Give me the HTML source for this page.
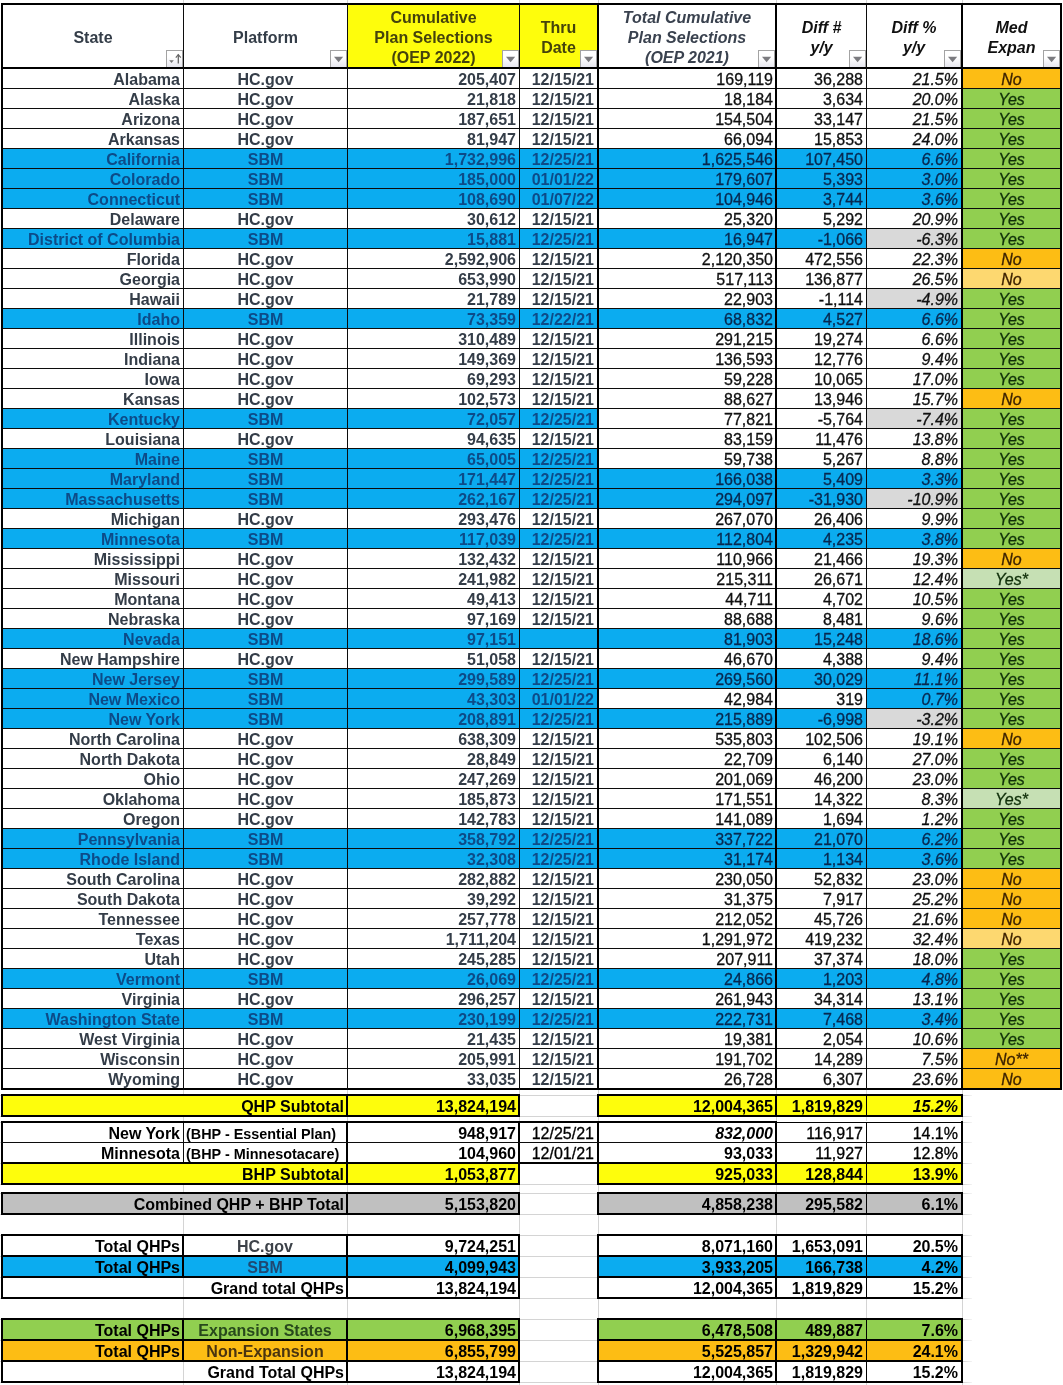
<!DOCTYPE html>
<html><head><meta charset="utf-8"><title>OEP 2022</title><style>
html,body{margin:0;padding:0;background:#fff;}
body{width:1063px;height:1385px;position:relative;overflow:hidden;font-family:"Liberation Sans",sans-serif;font-size:16px;}
.r{position:absolute;}
.t{position:absolute;white-space:nowrap;box-sizing:border-box;overflow:visible;}
#T{position:absolute;left:0;top:0;width:1063px;height:1385px;will-change:transform;}
.n{-webkit-text-stroke:0.3px;}
.b{font-weight:bold;} .i{font-style:italic;} .bi{font-weight:bold;font-style:italic;}
.fb{position:absolute;width:15px;height:16px;border:1px solid #a3a3a3;border-bottom:none;background:linear-gradient(#ffffff 40%,#e6e6ee);}
.fb svg{display:block;}
</style></head><body>
<div class="r" style="left:347px;top:3px;width:250px;height:66px;background:#fefd0c;"></div>
<div class="r" style="left:961px;top:68px;width:101px;height:21px;background:#fdbd14;"></div>
<div class="r" style="left:961px;top:88px;width:101px;height:21px;background:#91cf50;"></div>
<div class="r" style="left:961px;top:108px;width:101px;height:21px;background:#91cf50;"></div>
<div class="r" style="left:961px;top:128px;width:101px;height:21px;background:#91cf50;"></div>
<div class="r" style="left:1px;top:148px;width:597px;height:21px;background:#0bacf0;"></div>
<div class="r" style="left:597px;top:148px;width:178px;height:21px;background:#0bacf0;"></div>
<div class="r" style="left:775px;top:148px;width:91px;height:21px;background:#0bacf0;"></div>
<div class="r" style="left:866px;top:148px;width:95px;height:21px;background:#0bacf0;"></div>
<div class="r" style="left:961px;top:148px;width:101px;height:21px;background:#91cf50;"></div>
<div class="r" style="left:1px;top:168px;width:597px;height:21px;background:#0bacf0;"></div>
<div class="r" style="left:597px;top:168px;width:178px;height:21px;background:#0bacf0;"></div>
<div class="r" style="left:775px;top:168px;width:91px;height:21px;background:#0bacf0;"></div>
<div class="r" style="left:866px;top:168px;width:95px;height:21px;background:#0bacf0;"></div>
<div class="r" style="left:961px;top:168px;width:101px;height:21px;background:#91cf50;"></div>
<div class="r" style="left:1px;top:188px;width:597px;height:21px;background:#0bacf0;"></div>
<div class="r" style="left:597px;top:188px;width:178px;height:21px;background:#0bacf0;"></div>
<div class="r" style="left:775px;top:188px;width:91px;height:21px;background:#0bacf0;"></div>
<div class="r" style="left:866px;top:188px;width:95px;height:21px;background:#0bacf0;"></div>
<div class="r" style="left:961px;top:188px;width:101px;height:21px;background:#91cf50;"></div>
<div class="r" style="left:961px;top:208px;width:101px;height:21px;background:#91cf50;"></div>
<div class="r" style="left:1px;top:228px;width:597px;height:21px;background:#0bacf0;"></div>
<div class="r" style="left:597px;top:228px;width:178px;height:21px;background:#0bacf0;"></div>
<div class="r" style="left:775px;top:228px;width:91px;height:21px;background:#0bacf0;"></div>
<div class="r" style="left:866px;top:228px;width:95px;height:21px;background:#d9d9d9;"></div>
<div class="r" style="left:961px;top:228px;width:101px;height:21px;background:#91cf50;"></div>
<div class="r" style="left:961px;top:248px;width:101px;height:21px;background:#fdbd14;"></div>
<div class="r" style="left:961px;top:268px;width:101px;height:21px;background:#fdd870;"></div>
<div class="r" style="left:866px;top:288px;width:95px;height:21px;background:#d9d9d9;"></div>
<div class="r" style="left:961px;top:288px;width:101px;height:21px;background:#91cf50;"></div>
<div class="r" style="left:1px;top:308px;width:597px;height:21px;background:#0bacf0;"></div>
<div class="r" style="left:597px;top:308px;width:178px;height:21px;background:#0bacf0;"></div>
<div class="r" style="left:775px;top:308px;width:91px;height:21px;background:#0bacf0;"></div>
<div class="r" style="left:866px;top:308px;width:95px;height:21px;background:#0bacf0;"></div>
<div class="r" style="left:961px;top:308px;width:101px;height:21px;background:#91cf50;"></div>
<div class="r" style="left:961px;top:328px;width:101px;height:21px;background:#91cf50;"></div>
<div class="r" style="left:961px;top:348px;width:101px;height:21px;background:#91cf50;"></div>
<div class="r" style="left:961px;top:368px;width:101px;height:21px;background:#91cf50;"></div>
<div class="r" style="left:961px;top:388px;width:101px;height:21px;background:#fdbd14;"></div>
<div class="r" style="left:1px;top:408px;width:597px;height:21px;background:#0bacf0;"></div>
<div class="r" style="left:866px;top:408px;width:95px;height:21px;background:#d9d9d9;"></div>
<div class="r" style="left:961px;top:408px;width:101px;height:21px;background:#91cf50;"></div>
<div class="r" style="left:961px;top:428px;width:101px;height:21px;background:#91cf50;"></div>
<div class="r" style="left:1px;top:448px;width:597px;height:21px;background:#0bacf0;"></div>
<div class="r" style="left:961px;top:448px;width:101px;height:21px;background:#91cf50;"></div>
<div class="r" style="left:1px;top:468px;width:597px;height:21px;background:#0bacf0;"></div>
<div class="r" style="left:597px;top:468px;width:178px;height:21px;background:#0bacf0;"></div>
<div class="r" style="left:775px;top:468px;width:91px;height:21px;background:#0bacf0;"></div>
<div class="r" style="left:866px;top:468px;width:95px;height:21px;background:#0bacf0;"></div>
<div class="r" style="left:961px;top:468px;width:101px;height:21px;background:#91cf50;"></div>
<div class="r" style="left:1px;top:488px;width:597px;height:21px;background:#0bacf0;"></div>
<div class="r" style="left:597px;top:488px;width:178px;height:21px;background:#0bacf0;"></div>
<div class="r" style="left:775px;top:488px;width:91px;height:21px;background:#0bacf0;"></div>
<div class="r" style="left:866px;top:488px;width:95px;height:21px;background:#d9d9d9;"></div>
<div class="r" style="left:961px;top:488px;width:101px;height:21px;background:#91cf50;"></div>
<div class="r" style="left:961px;top:508px;width:101px;height:21px;background:#91cf50;"></div>
<div class="r" style="left:1px;top:528px;width:597px;height:21px;background:#0bacf0;"></div>
<div class="r" style="left:597px;top:528px;width:178px;height:21px;background:#0bacf0;"></div>
<div class="r" style="left:775px;top:528px;width:91px;height:21px;background:#0bacf0;"></div>
<div class="r" style="left:866px;top:528px;width:95px;height:21px;background:#0bacf0;"></div>
<div class="r" style="left:961px;top:528px;width:101px;height:21px;background:#91cf50;"></div>
<div class="r" style="left:961px;top:548px;width:101px;height:21px;background:#fdbd14;"></div>
<div class="r" style="left:961px;top:568px;width:101px;height:21px;background:#c6e0b4;"></div>
<div class="r" style="left:961px;top:588px;width:101px;height:21px;background:#91cf50;"></div>
<div class="r" style="left:961px;top:608px;width:101px;height:21px;background:#91cf50;"></div>
<div class="r" style="left:1px;top:628px;width:597px;height:21px;background:#0bacf0;"></div>
<div class="r" style="left:597px;top:628px;width:178px;height:21px;background:#0bacf0;"></div>
<div class="r" style="left:775px;top:628px;width:91px;height:21px;background:#0bacf0;"></div>
<div class="r" style="left:866px;top:628px;width:95px;height:21px;background:#0bacf0;"></div>
<div class="r" style="left:961px;top:628px;width:101px;height:21px;background:#91cf50;"></div>
<div class="r" style="left:961px;top:648px;width:101px;height:21px;background:#91cf50;"></div>
<div class="r" style="left:1px;top:668px;width:597px;height:21px;background:#0bacf0;"></div>
<div class="r" style="left:597px;top:668px;width:178px;height:21px;background:#0bacf0;"></div>
<div class="r" style="left:775px;top:668px;width:91px;height:21px;background:#0bacf0;"></div>
<div class="r" style="left:866px;top:668px;width:95px;height:21px;background:#0bacf0;"></div>
<div class="r" style="left:961px;top:668px;width:101px;height:21px;background:#91cf50;"></div>
<div class="r" style="left:1px;top:688px;width:597px;height:21px;background:#0bacf0;"></div>
<div class="r" style="left:866px;top:688px;width:95px;height:21px;background:#0bacf0;"></div>
<div class="r" style="left:961px;top:688px;width:101px;height:21px;background:#91cf50;"></div>
<div class="r" style="left:1px;top:708px;width:597px;height:21px;background:#0bacf0;"></div>
<div class="r" style="left:597px;top:708px;width:178px;height:21px;background:#0bacf0;"></div>
<div class="r" style="left:775px;top:708px;width:91px;height:21px;background:#0bacf0;"></div>
<div class="r" style="left:866px;top:708px;width:95px;height:21px;background:#d9d9d9;"></div>
<div class="r" style="left:961px;top:708px;width:101px;height:21px;background:#91cf50;"></div>
<div class="r" style="left:961px;top:728px;width:101px;height:21px;background:#fdbd14;"></div>
<div class="r" style="left:961px;top:748px;width:101px;height:21px;background:#91cf50;"></div>
<div class="r" style="left:961px;top:768px;width:101px;height:21px;background:#91cf50;"></div>
<div class="r" style="left:961px;top:788px;width:101px;height:21px;background:#c6e0b4;"></div>
<div class="r" style="left:961px;top:808px;width:101px;height:21px;background:#91cf50;"></div>
<div class="r" style="left:1px;top:828px;width:597px;height:21px;background:#0bacf0;"></div>
<div class="r" style="left:597px;top:828px;width:178px;height:21px;background:#0bacf0;"></div>
<div class="r" style="left:775px;top:828px;width:91px;height:21px;background:#0bacf0;"></div>
<div class="r" style="left:866px;top:828px;width:95px;height:21px;background:#0bacf0;"></div>
<div class="r" style="left:961px;top:828px;width:101px;height:21px;background:#91cf50;"></div>
<div class="r" style="left:1px;top:848px;width:597px;height:21px;background:#0bacf0;"></div>
<div class="r" style="left:597px;top:848px;width:178px;height:21px;background:#0bacf0;"></div>
<div class="r" style="left:775px;top:848px;width:91px;height:21px;background:#0bacf0;"></div>
<div class="r" style="left:866px;top:848px;width:95px;height:21px;background:#0bacf0;"></div>
<div class="r" style="left:961px;top:848px;width:101px;height:21px;background:#91cf50;"></div>
<div class="r" style="left:961px;top:868px;width:101px;height:21px;background:#fdbd14;"></div>
<div class="r" style="left:961px;top:888px;width:101px;height:21px;background:#fdbd14;"></div>
<div class="r" style="left:961px;top:908px;width:101px;height:21px;background:#fdbd14;"></div>
<div class="r" style="left:961px;top:928px;width:101px;height:21px;background:#fdd870;"></div>
<div class="r" style="left:961px;top:948px;width:101px;height:21px;background:#91cf50;"></div>
<div class="r" style="left:1px;top:968px;width:597px;height:21px;background:#0bacf0;"></div>
<div class="r" style="left:597px;top:968px;width:178px;height:21px;background:#0bacf0;"></div>
<div class="r" style="left:775px;top:968px;width:91px;height:21px;background:#0bacf0;"></div>
<div class="r" style="left:866px;top:968px;width:95px;height:21px;background:#0bacf0;"></div>
<div class="r" style="left:961px;top:968px;width:101px;height:21px;background:#91cf50;"></div>
<div class="r" style="left:961px;top:988px;width:101px;height:21px;background:#91cf50;"></div>
<div class="r" style="left:1px;top:1008px;width:597px;height:21px;background:#0bacf0;"></div>
<div class="r" style="left:597px;top:1008px;width:178px;height:21px;background:#0bacf0;"></div>
<div class="r" style="left:775px;top:1008px;width:91px;height:21px;background:#0bacf0;"></div>
<div class="r" style="left:866px;top:1008px;width:95px;height:21px;background:#0bacf0;"></div>
<div class="r" style="left:961px;top:1008px;width:101px;height:21px;background:#91cf50;"></div>
<div class="r" style="left:961px;top:1028px;width:101px;height:21px;background:#91cf50;"></div>
<div class="r" style="left:961px;top:1048px;width:101px;height:21px;background:#fdbd14;"></div>
<div class="r" style="left:961px;top:1068px;width:101px;height:21px;background:#fdbd14;"></div>
<div class="r" style="left:1px;top:88px;width:1061px;height:1px;background:#0c0c0c;"></div>
<div class="r" style="left:1px;top:108px;width:1061px;height:1px;background:#0c0c0c;"></div>
<div class="r" style="left:1px;top:128px;width:1061px;height:1px;background:#0c0c0c;"></div>
<div class="r" style="left:1px;top:148px;width:1061px;height:1px;background:#0c0c0c;"></div>
<div class="r" style="left:1px;top:168px;width:1061px;height:1px;background:#0c0c0c;"></div>
<div class="r" style="left:1px;top:188px;width:1061px;height:1px;background:#0c0c0c;"></div>
<div class="r" style="left:1px;top:208px;width:1061px;height:1px;background:#0c0c0c;"></div>
<div class="r" style="left:1px;top:228px;width:1061px;height:1px;background:#0c0c0c;"></div>
<div class="r" style="left:1px;top:248px;width:1061px;height:1px;background:#0c0c0c;"></div>
<div class="r" style="left:1px;top:268px;width:1061px;height:1px;background:#0c0c0c;"></div>
<div class="r" style="left:1px;top:288px;width:1061px;height:1px;background:#0c0c0c;"></div>
<div class="r" style="left:1px;top:308px;width:1061px;height:1px;background:#0c0c0c;"></div>
<div class="r" style="left:1px;top:328px;width:1061px;height:1px;background:#0c0c0c;"></div>
<div class="r" style="left:1px;top:348px;width:1061px;height:1px;background:#0c0c0c;"></div>
<div class="r" style="left:1px;top:368px;width:1061px;height:1px;background:#0c0c0c;"></div>
<div class="r" style="left:1px;top:388px;width:1061px;height:1px;background:#0c0c0c;"></div>
<div class="r" style="left:1px;top:408px;width:1061px;height:1px;background:#0c0c0c;"></div>
<div class="r" style="left:1px;top:428px;width:1061px;height:1px;background:#0c0c0c;"></div>
<div class="r" style="left:1px;top:448px;width:1061px;height:1px;background:#0c0c0c;"></div>
<div class="r" style="left:1px;top:468px;width:1061px;height:1px;background:#0c0c0c;"></div>
<div class="r" style="left:1px;top:488px;width:1061px;height:1px;background:#0c0c0c;"></div>
<div class="r" style="left:1px;top:508px;width:1061px;height:1px;background:#0c0c0c;"></div>
<div class="r" style="left:1px;top:528px;width:1061px;height:1px;background:#0c0c0c;"></div>
<div class="r" style="left:1px;top:548px;width:1061px;height:1px;background:#0c0c0c;"></div>
<div class="r" style="left:1px;top:568px;width:1061px;height:1px;background:#0c0c0c;"></div>
<div class="r" style="left:1px;top:588px;width:1061px;height:1px;background:#0c0c0c;"></div>
<div class="r" style="left:1px;top:608px;width:1061px;height:1px;background:#0c0c0c;"></div>
<div class="r" style="left:1px;top:628px;width:1061px;height:1px;background:#0c0c0c;"></div>
<div class="r" style="left:1px;top:648px;width:1061px;height:1px;background:#0c0c0c;"></div>
<div class="r" style="left:1px;top:668px;width:1061px;height:1px;background:#0c0c0c;"></div>
<div class="r" style="left:1px;top:688px;width:1061px;height:1px;background:#0c0c0c;"></div>
<div class="r" style="left:1px;top:708px;width:1061px;height:1px;background:#0c0c0c;"></div>
<div class="r" style="left:1px;top:728px;width:1061px;height:1px;background:#0c0c0c;"></div>
<div class="r" style="left:1px;top:748px;width:1061px;height:1px;background:#0c0c0c;"></div>
<div class="r" style="left:1px;top:768px;width:1061px;height:1px;background:#0c0c0c;"></div>
<div class="r" style="left:1px;top:788px;width:1061px;height:1px;background:#0c0c0c;"></div>
<div class="r" style="left:1px;top:808px;width:1061px;height:1px;background:#0c0c0c;"></div>
<div class="r" style="left:1px;top:828px;width:1061px;height:1px;background:#0c0c0c;"></div>
<div class="r" style="left:1px;top:848px;width:1061px;height:1px;background:#0c0c0c;"></div>
<div class="r" style="left:1px;top:868px;width:1061px;height:1px;background:#0c0c0c;"></div>
<div class="r" style="left:1px;top:888px;width:1061px;height:1px;background:#0c0c0c;"></div>
<div class="r" style="left:1px;top:908px;width:1061px;height:1px;background:#0c0c0c;"></div>
<div class="r" style="left:1px;top:928px;width:1061px;height:1px;background:#0c0c0c;"></div>
<div class="r" style="left:1px;top:948px;width:1061px;height:1px;background:#0c0c0c;"></div>
<div class="r" style="left:1px;top:968px;width:1061px;height:1px;background:#0c0c0c;"></div>
<div class="r" style="left:1px;top:988px;width:1061px;height:1px;background:#0c0c0c;"></div>
<div class="r" style="left:1px;top:1008px;width:1061px;height:1px;background:#0c0c0c;"></div>
<div class="r" style="left:1px;top:1028px;width:1061px;height:1px;background:#0c0c0c;"></div>
<div class="r" style="left:1px;top:1048px;width:1061px;height:1px;background:#0c0c0c;"></div>
<div class="r" style="left:1px;top:1068px;width:1061px;height:1px;background:#0c0c0c;"></div>
<div class="r" style="left:1px;top:3px;width:1061px;height:2px;background:#000;"></div>
<div class="r" style="left:1px;top:67px;width:1061px;height:2px;background:#000;"></div>
<div class="r" style="left:1px;top:1088px;width:1061px;height:2px;background:#000;"></div>
<div class="r" style="left:1px;top:3px;width:2px;height:1087px;background:#000;"></div>
<div class="r" style="left:183px;top:3px;width:1px;height:1087px;background:#0c0c0c;"></div>
<div class="r" style="left:347px;top:3px;width:1px;height:1087px;background:#0c0c0c;"></div>
<div class="r" style="left:519px;top:3px;width:1px;height:1087px;background:#0c0c0c;"></div>
<div class="r" style="left:597px;top:3px;width:2px;height:1087px;background:#000;"></div>
<div class="r" style="left:775px;top:3px;width:2px;height:1087px;background:#000;"></div>
<div class="r" style="left:866px;top:3px;width:1px;height:1087px;background:#0c0c0c;"></div>
<div class="r" style="left:961px;top:3px;width:2px;height:1087px;background:#000;"></div>
<div class="r" style="left:1060px;top:3px;width:2px;height:1087px;background:#000;"></div>
<div class="fb" style="left:166px;top:50px;"><svg width="15" height="16" viewBox="0 0 15 16"><path d="M2.2 9.2h4.6L4.5 12z" fill="#777"/><path d="M11.3 3.6v9" stroke="#666" stroke-width="1.3" fill="none"/><path d="M8.8 6.6l2.5-3 2.5 3" stroke="#666" stroke-width="1.2" fill="none"/></svg></div>
<div class="fb" style="left:330px;top:50px;"><svg width="15" height="16" viewBox="0 0 15 16"><path d="M3 5.8h9.2L7.6 11.2z" fill="#7b7b7f"/></svg></div>
<div class="fb" style="left:502px;top:50px;"><svg width="15" height="16" viewBox="0 0 15 16"><path d="M3 5.8h9.2L7.6 11.2z" fill="#7b7b7f"/></svg></div>
<div class="fb" style="left:580px;top:50px;"><svg width="15" height="16" viewBox="0 0 15 16"><path d="M3 5.8h9.2L7.6 11.2z" fill="#7b7b7f"/></svg></div>
<div class="fb" style="left:758px;top:50px;"><svg width="15" height="16" viewBox="0 0 15 16"><path d="M3 5.8h9.2L7.6 11.2z" fill="#7b7b7f"/></svg></div>
<div class="fb" style="left:849px;top:50px;"><svg width="15" height="16" viewBox="0 0 15 16"><path d="M3 5.8h9.2L7.6 11.2z" fill="#7b7b7f"/></svg></div>
<div class="fb" style="left:944px;top:50px;"><svg width="15" height="16" viewBox="0 0 15 16"><path d="M3 5.8h9.2L7.6 11.2z" fill="#7b7b7f"/></svg></div>
<div class="fb" style="left:1043px;top:50px;"><svg width="15" height="16" viewBox="0 0 15 16"><path d="M3 5.8h9.2L7.6 11.2z" fill="#7b7b7f"/></svg></div>
<div class="r" style="left:0px;top:1095px;width:972px;height:1px;background:#d4d4d4;"></div>
<div class="r" style="left:0px;top:1116px;width:972px;height:1px;background:#d4d4d4;"></div>
<div class="r" style="left:0px;top:1122px;width:972px;height:1px;background:#d4d4d4;"></div>
<div class="r" style="left:0px;top:1142px;width:972px;height:1px;background:#d4d4d4;"></div>
<div class="r" style="left:0px;top:1163px;width:972px;height:1px;background:#d4d4d4;"></div>
<div class="r" style="left:0px;top:1184px;width:972px;height:1px;background:#d4d4d4;"></div>
<div class="r" style="left:0px;top:1193px;width:972px;height:1px;background:#d4d4d4;"></div>
<div class="r" style="left:0px;top:1214px;width:972px;height:1px;background:#d4d4d4;"></div>
<div class="r" style="left:0px;top:1235px;width:972px;height:1px;background:#d4d4d4;"></div>
<div class="r" style="left:0px;top:1256px;width:972px;height:1px;background:#d4d4d4;"></div>
<div class="r" style="left:0px;top:1277px;width:972px;height:1px;background:#d4d4d4;"></div>
<div class="r" style="left:0px;top:1298px;width:972px;height:1px;background:#d4d4d4;"></div>
<div class="r" style="left:0px;top:1319px;width:972px;height:1px;background:#d4d4d4;"></div>
<div class="r" style="left:0px;top:1340px;width:972px;height:1px;background:#d4d4d4;"></div>
<div class="r" style="left:0px;top:1361px;width:972px;height:1px;background:#d4d4d4;"></div>
<div class="r" style="left:0px;top:1382px;width:972px;height:1px;background:#d4d4d4;"></div>
<div class="r" style="left:183px;top:1090px;width:1px;height:295px;background:#d4d4d4;"></div>
<div class="r" style="left:183px;top:0px;width:1px;height:3px;background:#d4d4d4;"></div>
<div class="r" style="left:347px;top:1090px;width:1px;height:295px;background:#d4d4d4;"></div>
<div class="r" style="left:347px;top:0px;width:1px;height:3px;background:#d4d4d4;"></div>
<div class="r" style="left:519px;top:1090px;width:1px;height:295px;background:#d4d4d4;"></div>
<div class="r" style="left:519px;top:0px;width:1px;height:3px;background:#d4d4d4;"></div>
<div class="r" style="left:598px;top:1090px;width:1px;height:295px;background:#d4d4d4;"></div>
<div class="r" style="left:598px;top:0px;width:1px;height:3px;background:#d4d4d4;"></div>
<div class="r" style="left:776px;top:1090px;width:1px;height:295px;background:#d4d4d4;"></div>
<div class="r" style="left:776px;top:0px;width:1px;height:3px;background:#d4d4d4;"></div>
<div class="r" style="left:866px;top:1090px;width:1px;height:295px;background:#d4d4d4;"></div>
<div class="r" style="left:866px;top:0px;width:1px;height:3px;background:#d4d4d4;"></div>
<div class="r" style="left:962px;top:1090px;width:1px;height:295px;background:#d4d4d4;"></div>
<div class="r" style="left:962px;top:0px;width:1px;height:3px;background:#d4d4d4;"></div>
<div class="r" style="left:963px;top:1090px;width:12px;height:295px;background:linear-gradient(90deg,rgba(255,255,255,0),#fff);"></div>
<div class="r" style="left:1px;top:1094px;width:519px;height:23px;background:#fefd0c;"></div>
<div class="r" style="left:1px;top:1094px;width:519px;height:2px;background:#000;"></div>
<div class="r" style="left:1px;top:1115px;width:519px;height:2px;background:#000;"></div>
<div class="r" style="left:1px;top:1094px;width:2px;height:23px;background:#000;"></div>
<div class="r" style="left:518px;top:1094px;width:2px;height:23px;background:#000;"></div>
<div class="r" style="left:346px;top:1094px;width:2px;height:23px;background:#000;"></div>
<div class="r" style="left:597px;top:1094px;width:366px;height:23px;background:#fefd0c;"></div>
<div class="r" style="left:597px;top:1094px;width:366px;height:2px;background:#000;"></div>
<div class="r" style="left:597px;top:1115px;width:366px;height:2px;background:#000;"></div>
<div class="r" style="left:597px;top:1094px;width:2px;height:23px;background:#000;"></div>
<div class="r" style="left:961px;top:1094px;width:2px;height:23px;background:#000;"></div>
<div class="r" style="left:775px;top:1094px;width:2px;height:23px;background:#000;"></div>
<div class="r" style="left:866px;top:1094px;width:1px;height:23px;background:#000;"></div>
<div class="r" style="left:1px;top:1164px;width:519px;height:20px;background:#fefd0c;"></div>
<div class="r" style="left:597px;top:1164px;width:366px;height:20px;background:#fefd0c;"></div>
<div class="r" style="left:1px;top:1121px;width:519px;height:2px;background:#000;"></div>
<div class="r" style="left:1px;top:1183px;width:519px;height:2px;background:#000;"></div>
<div class="r" style="left:1px;top:1121px;width:2px;height:64px;background:#000;"></div>
<div class="r" style="left:518px;top:1121px;width:2px;height:64px;background:#000;"></div>
<div class="r" style="left:346px;top:1121px;width:2px;height:64px;background:#000;"></div>
<div class="r" style="left:183px;top:1123px;width:1px;height:40px;background:#0c0c0c;"></div>
<div class="r" style="left:1px;top:1142px;width:597px;height:1px;background:#0c0c0c;"></div>
<div class="r" style="left:1px;top:1162px;width:597px;height:2px;background:#000;"></div>
<div class="r" style="left:519px;top:1121px;width:80px;height:2px;background:#000;"></div>
<div class="r" style="left:597px;top:1121px;width:366px;height:2px;background:#000;"></div>
<div class="r" style="left:597px;top:1183px;width:366px;height:2px;background:#000;"></div>
<div class="r" style="left:597px;top:1121px;width:2px;height:64px;background:#000;"></div>
<div class="r" style="left:961px;top:1121px;width:2px;height:64px;background:#000;"></div>
<div class="r" style="left:775px;top:1121px;width:2px;height:64px;background:#000;"></div>
<div class="r" style="left:866px;top:1121px;width:1px;height:64px;background:#000;"></div>
<div class="r" style="left:777px;top:1121px;width:184px;height:1px;background:#fff;"></div>
<div class="r" style="left:597px;top:1142px;width:366px;height:1px;background:#0c0c0c;"></div>
<div class="r" style="left:597px;top:1162px;width:366px;height:2px;background:#000;"></div>
<div class="r" style="left:1px;top:1192px;width:519px;height:23px;background:#c0c0c0;"></div>
<div class="r" style="left:1px;top:1192px;width:519px;height:2px;background:#000;"></div>
<div class="r" style="left:1px;top:1213px;width:519px;height:2px;background:#000;"></div>
<div class="r" style="left:1px;top:1192px;width:2px;height:23px;background:#000;"></div>
<div class="r" style="left:518px;top:1192px;width:2px;height:23px;background:#000;"></div>
<div class="r" style="left:346px;top:1192px;width:2px;height:23px;background:#000;"></div>
<div class="r" style="left:597px;top:1192px;width:366px;height:23px;background:#c0c0c0;"></div>
<div class="r" style="left:597px;top:1192px;width:366px;height:2px;background:#000;"></div>
<div class="r" style="left:597px;top:1213px;width:366px;height:2px;background:#000;"></div>
<div class="r" style="left:597px;top:1192px;width:2px;height:23px;background:#000;"></div>
<div class="r" style="left:961px;top:1192px;width:2px;height:23px;background:#000;"></div>
<div class="r" style="left:775px;top:1192px;width:2px;height:23px;background:#000;"></div>
<div class="r" style="left:866px;top:1192px;width:1px;height:23px;background:#000;"></div>
<div class="r" style="left:1px;top:1256px;width:519px;height:21px;background:#0bacf0;"></div>
<div class="r" style="left:597px;top:1256px;width:366px;height:21px;background:#0bacf0;"></div>
<div class="r" style="left:1px;top:1234px;width:519px;height:2px;background:#000;"></div>
<div class="r" style="left:1px;top:1297px;width:519px;height:2px;background:#000;"></div>
<div class="r" style="left:1px;top:1234px;width:2px;height:65px;background:#000;"></div>
<div class="r" style="left:518px;top:1234px;width:2px;height:65px;background:#000;"></div>
<div class="r" style="left:597px;top:1234px;width:366px;height:2px;background:#000;"></div>
<div class="r" style="left:597px;top:1297px;width:366px;height:2px;background:#000;"></div>
<div class="r" style="left:597px;top:1234px;width:2px;height:65px;background:#000;"></div>
<div class="r" style="left:961px;top:1234px;width:2px;height:65px;background:#000;"></div>
<div class="r" style="left:1px;top:1255px;width:519px;height:2px;background:#000;"></div>
<div class="r" style="left:597px;top:1255px;width:366px;height:2px;background:#000;"></div>
<div class="r" style="left:1px;top:1276px;width:519px;height:2px;background:#000;"></div>
<div class="r" style="left:597px;top:1276px;width:366px;height:2px;background:#000;"></div>
<div class="r" style="left:346px;top:1234px;width:2px;height:65px;background:#000;"></div>
<div class="r" style="left:182px;top:1234px;width:2px;height:43px;background:#000;"></div>
<div class="r" style="left:775px;top:1234px;width:2px;height:65px;background:#000;"></div>
<div class="r" style="left:866px;top:1234px;width:1px;height:65px;background:#000;"></div>
<div class="r" style="left:1px;top:1319px;width:519px;height:21px;background:#91cf50;"></div>
<div class="r" style="left:597px;top:1319px;width:366px;height:21px;background:#91cf50;"></div>
<div class="r" style="left:1px;top:1340px;width:519px;height:21px;background:#fdbd14;"></div>
<div class="r" style="left:597px;top:1340px;width:366px;height:21px;background:#fdbd14;"></div>
<div class="r" style="left:1px;top:1318px;width:519px;height:2px;background:#000;"></div>
<div class="r" style="left:1px;top:1381px;width:519px;height:2px;background:#000;"></div>
<div class="r" style="left:1px;top:1318px;width:2px;height:65px;background:#000;"></div>
<div class="r" style="left:518px;top:1318px;width:2px;height:65px;background:#000;"></div>
<div class="r" style="left:597px;top:1318px;width:366px;height:2px;background:#000;"></div>
<div class="r" style="left:597px;top:1381px;width:366px;height:2px;background:#000;"></div>
<div class="r" style="left:597px;top:1318px;width:2px;height:65px;background:#000;"></div>
<div class="r" style="left:961px;top:1318px;width:2px;height:65px;background:#000;"></div>
<div class="r" style="left:1px;top:1339px;width:519px;height:2px;background:#000;"></div>
<div class="r" style="left:597px;top:1339px;width:366px;height:2px;background:#000;"></div>
<div class="r" style="left:1px;top:1360px;width:519px;height:2px;background:#000;"></div>
<div class="r" style="left:597px;top:1360px;width:366px;height:2px;background:#000;"></div>
<div class="r" style="left:346px;top:1318px;width:2px;height:65px;background:#000;"></div>
<div class="r" style="left:182px;top:1318px;width:2px;height:43px;background:#000;"></div>
<div class="r" style="left:775px;top:1318px;width:2px;height:65px;background:#000;"></div>
<div class="r" style="left:866px;top:1318px;width:1px;height:65px;background:#000;"></div>
<div id="T">
<div class="t b" style="left:3px;top:70px;width:180px;height:20px;line-height:20px;text-align:right;padding-right:3px;color:#343d48;">Alabama</div>
<div class="t b" style="left:184px;top:70px;width:163px;height:20px;line-height:20px;text-align:center;color:#343d48;">HC.gov</div>
<div class="t b" style="left:348px;top:70px;width:171px;height:20px;line-height:20px;text-align:right;padding-right:3px;color:#343d48;">205,407</div>
<div class="t b" style="left:520px;top:70px;width:77px;height:20px;line-height:20px;text-align:right;padding-right:3px;color:#343d48;">12/15/21</div>
<div class="t n" style="left:599px;top:70px;width:176px;height:20px;line-height:20px;text-align:right;padding-right:2px;color:#101010;">169,119</div>
<div class="t n" style="left:777px;top:70px;width:89px;height:20px;line-height:20px;text-align:right;padding-right:3px;color:#101010;">36,288</div>
<div class="t i n" style="left:867px;top:70px;width:94px;height:20px;line-height:20px;text-align:right;padding-right:3px;color:#101010;">21.5%</div>
<div class="t i n" style="left:963px;top:70px;width:97px;height:20px;line-height:20px;text-align:center;color:#3d2300;">No</div>
<div class="t b" style="left:3px;top:90px;width:180px;height:20px;line-height:20px;text-align:right;padding-right:3px;color:#343d48;">Alaska</div>
<div class="t b" style="left:184px;top:90px;width:163px;height:20px;line-height:20px;text-align:center;color:#343d48;">HC.gov</div>
<div class="t b" style="left:348px;top:90px;width:171px;height:20px;line-height:20px;text-align:right;padding-right:3px;color:#343d48;">21,818</div>
<div class="t b" style="left:520px;top:90px;width:77px;height:20px;line-height:20px;text-align:right;padding-right:3px;color:#343d48;">12/15/21</div>
<div class="t n" style="left:599px;top:90px;width:176px;height:20px;line-height:20px;text-align:right;padding-right:2px;color:#101010;">18,184</div>
<div class="t n" style="left:777px;top:90px;width:89px;height:20px;line-height:20px;text-align:right;padding-right:3px;color:#101010;">3,634</div>
<div class="t i n" style="left:867px;top:90px;width:94px;height:20px;line-height:20px;text-align:right;padding-right:3px;color:#101010;">20.0%</div>
<div class="t i n" style="left:963px;top:90px;width:97px;height:20px;line-height:20px;text-align:center;color:#10300a;">Yes</div>
<div class="t b" style="left:3px;top:110px;width:180px;height:20px;line-height:20px;text-align:right;padding-right:3px;color:#343d48;">Arizona</div>
<div class="t b" style="left:184px;top:110px;width:163px;height:20px;line-height:20px;text-align:center;color:#343d48;">HC.gov</div>
<div class="t b" style="left:348px;top:110px;width:171px;height:20px;line-height:20px;text-align:right;padding-right:3px;color:#343d48;">187,651</div>
<div class="t b" style="left:520px;top:110px;width:77px;height:20px;line-height:20px;text-align:right;padding-right:3px;color:#343d48;">12/15/21</div>
<div class="t n" style="left:599px;top:110px;width:176px;height:20px;line-height:20px;text-align:right;padding-right:2px;color:#101010;">154,504</div>
<div class="t n" style="left:777px;top:110px;width:89px;height:20px;line-height:20px;text-align:right;padding-right:3px;color:#101010;">33,147</div>
<div class="t i n" style="left:867px;top:110px;width:94px;height:20px;line-height:20px;text-align:right;padding-right:3px;color:#101010;">21.5%</div>
<div class="t i n" style="left:963px;top:110px;width:97px;height:20px;line-height:20px;text-align:center;color:#10300a;">Yes</div>
<div class="t b" style="left:3px;top:130px;width:180px;height:20px;line-height:20px;text-align:right;padding-right:3px;color:#343d48;">Arkansas</div>
<div class="t b" style="left:184px;top:130px;width:163px;height:20px;line-height:20px;text-align:center;color:#343d48;">HC.gov</div>
<div class="t b" style="left:348px;top:130px;width:171px;height:20px;line-height:20px;text-align:right;padding-right:3px;color:#343d48;">81,947</div>
<div class="t b" style="left:520px;top:130px;width:77px;height:20px;line-height:20px;text-align:right;padding-right:3px;color:#343d48;">12/15/21</div>
<div class="t n" style="left:599px;top:130px;width:176px;height:20px;line-height:20px;text-align:right;padding-right:2px;color:#101010;">66,094</div>
<div class="t n" style="left:777px;top:130px;width:89px;height:20px;line-height:20px;text-align:right;padding-right:3px;color:#101010;">15,853</div>
<div class="t i n" style="left:867px;top:130px;width:94px;height:20px;line-height:20px;text-align:right;padding-right:3px;color:#101010;">24.0%</div>
<div class="t i n" style="left:963px;top:130px;width:97px;height:20px;line-height:20px;text-align:center;color:#10300a;">Yes</div>
<div class="t b" style="left:3px;top:150px;width:180px;height:20px;line-height:20px;text-align:right;padding-right:3px;color:#0d4b88;">California</div>
<div class="t b" style="left:184px;top:150px;width:163px;height:20px;line-height:20px;text-align:center;color:#0d4b88;">SBM</div>
<div class="t b" style="left:348px;top:150px;width:171px;height:20px;line-height:20px;text-align:right;padding-right:3px;color:#0d4b88;">1,732,996</div>
<div class="t b" style="left:520px;top:150px;width:77px;height:20px;line-height:20px;text-align:right;padding-right:3px;color:#0d4b88;">12/25/21</div>
<div class="t n" style="left:599px;top:150px;width:176px;height:20px;line-height:20px;text-align:right;padding-right:2px;color:#08284f;">1,625,546</div>
<div class="t n" style="left:777px;top:150px;width:89px;height:20px;line-height:20px;text-align:right;padding-right:3px;color:#08284f;">107,450</div>
<div class="t i n" style="left:867px;top:150px;width:94px;height:20px;line-height:20px;text-align:right;padding-right:3px;color:#08284f;">6.6%</div>
<div class="t i n" style="left:963px;top:150px;width:97px;height:20px;line-height:20px;text-align:center;color:#10300a;">Yes</div>
<div class="t b" style="left:3px;top:170px;width:180px;height:20px;line-height:20px;text-align:right;padding-right:3px;color:#0d4b88;">Colorado</div>
<div class="t b" style="left:184px;top:170px;width:163px;height:20px;line-height:20px;text-align:center;color:#0d4b88;">SBM</div>
<div class="t b" style="left:348px;top:170px;width:171px;height:20px;line-height:20px;text-align:right;padding-right:3px;color:#0d4b88;">185,000</div>
<div class="t b" style="left:520px;top:170px;width:77px;height:20px;line-height:20px;text-align:right;padding-right:3px;color:#0d4b88;">01/01/22</div>
<div class="t n" style="left:599px;top:170px;width:176px;height:20px;line-height:20px;text-align:right;padding-right:2px;color:#08284f;">179,607</div>
<div class="t n" style="left:777px;top:170px;width:89px;height:20px;line-height:20px;text-align:right;padding-right:3px;color:#08284f;">5,393</div>
<div class="t i n" style="left:867px;top:170px;width:94px;height:20px;line-height:20px;text-align:right;padding-right:3px;color:#08284f;">3.0%</div>
<div class="t i n" style="left:963px;top:170px;width:97px;height:20px;line-height:20px;text-align:center;color:#10300a;">Yes</div>
<div class="t b" style="left:3px;top:190px;width:180px;height:20px;line-height:20px;text-align:right;padding-right:3px;color:#0d4b88;">Connecticut</div>
<div class="t b" style="left:184px;top:190px;width:163px;height:20px;line-height:20px;text-align:center;color:#0d4b88;">SBM</div>
<div class="t b" style="left:348px;top:190px;width:171px;height:20px;line-height:20px;text-align:right;padding-right:3px;color:#0d4b88;">108,690</div>
<div class="t b" style="left:520px;top:190px;width:77px;height:20px;line-height:20px;text-align:right;padding-right:3px;color:#0d4b88;">01/07/22</div>
<div class="t n" style="left:599px;top:190px;width:176px;height:20px;line-height:20px;text-align:right;padding-right:2px;color:#08284f;">104,946</div>
<div class="t n" style="left:777px;top:190px;width:89px;height:20px;line-height:20px;text-align:right;padding-right:3px;color:#08284f;">3,744</div>
<div class="t i n" style="left:867px;top:190px;width:94px;height:20px;line-height:20px;text-align:right;padding-right:3px;color:#08284f;">3.6%</div>
<div class="t i n" style="left:963px;top:190px;width:97px;height:20px;line-height:20px;text-align:center;color:#10300a;">Yes</div>
<div class="t b" style="left:3px;top:210px;width:180px;height:20px;line-height:20px;text-align:right;padding-right:3px;color:#343d48;">Delaware</div>
<div class="t b" style="left:184px;top:210px;width:163px;height:20px;line-height:20px;text-align:center;color:#343d48;">HC.gov</div>
<div class="t b" style="left:348px;top:210px;width:171px;height:20px;line-height:20px;text-align:right;padding-right:3px;color:#343d48;">30,612</div>
<div class="t b" style="left:520px;top:210px;width:77px;height:20px;line-height:20px;text-align:right;padding-right:3px;color:#343d48;">12/15/21</div>
<div class="t n" style="left:599px;top:210px;width:176px;height:20px;line-height:20px;text-align:right;padding-right:2px;color:#101010;">25,320</div>
<div class="t n" style="left:777px;top:210px;width:89px;height:20px;line-height:20px;text-align:right;padding-right:3px;color:#101010;">5,292</div>
<div class="t i n" style="left:867px;top:210px;width:94px;height:20px;line-height:20px;text-align:right;padding-right:3px;color:#101010;">20.9%</div>
<div class="t i n" style="left:963px;top:210px;width:97px;height:20px;line-height:20px;text-align:center;color:#10300a;">Yes</div>
<div class="t b" style="left:3px;top:230px;width:180px;height:20px;line-height:20px;text-align:right;padding-right:3px;color:#0d4b88;">District of Columbia</div>
<div class="t b" style="left:184px;top:230px;width:163px;height:20px;line-height:20px;text-align:center;color:#0d4b88;">SBM</div>
<div class="t b" style="left:348px;top:230px;width:171px;height:20px;line-height:20px;text-align:right;padding-right:3px;color:#0d4b88;">15,881</div>
<div class="t b" style="left:520px;top:230px;width:77px;height:20px;line-height:20px;text-align:right;padding-right:3px;color:#0d4b88;">12/25/21</div>
<div class="t n" style="left:599px;top:230px;width:176px;height:20px;line-height:20px;text-align:right;padding-right:2px;color:#08284f;">16,947</div>
<div class="t n" style="left:777px;top:230px;width:89px;height:20px;line-height:20px;text-align:right;padding-right:3px;color:#08284f;">-1,066</div>
<div class="t i n" style="left:867px;top:230px;width:94px;height:20px;line-height:20px;text-align:right;padding-right:3px;color:#101010;">-6.3%</div>
<div class="t i n" style="left:963px;top:230px;width:97px;height:20px;line-height:20px;text-align:center;color:#10300a;">Yes</div>
<div class="t b" style="left:3px;top:250px;width:180px;height:20px;line-height:20px;text-align:right;padding-right:3px;color:#343d48;">Florida</div>
<div class="t b" style="left:184px;top:250px;width:163px;height:20px;line-height:20px;text-align:center;color:#343d48;">HC.gov</div>
<div class="t b" style="left:348px;top:250px;width:171px;height:20px;line-height:20px;text-align:right;padding-right:3px;color:#343d48;">2,592,906</div>
<div class="t b" style="left:520px;top:250px;width:77px;height:20px;line-height:20px;text-align:right;padding-right:3px;color:#343d48;">12/15/21</div>
<div class="t n" style="left:599px;top:250px;width:176px;height:20px;line-height:20px;text-align:right;padding-right:2px;color:#101010;">2,120,350</div>
<div class="t n" style="left:777px;top:250px;width:89px;height:20px;line-height:20px;text-align:right;padding-right:3px;color:#101010;">472,556</div>
<div class="t i n" style="left:867px;top:250px;width:94px;height:20px;line-height:20px;text-align:right;padding-right:3px;color:#101010;">22.3%</div>
<div class="t i n" style="left:963px;top:250px;width:97px;height:20px;line-height:20px;text-align:center;color:#3d2300;">No</div>
<div class="t b" style="left:3px;top:270px;width:180px;height:20px;line-height:20px;text-align:right;padding-right:3px;color:#343d48;">Georgia</div>
<div class="t b" style="left:184px;top:270px;width:163px;height:20px;line-height:20px;text-align:center;color:#343d48;">HC.gov</div>
<div class="t b" style="left:348px;top:270px;width:171px;height:20px;line-height:20px;text-align:right;padding-right:3px;color:#343d48;">653,990</div>
<div class="t b" style="left:520px;top:270px;width:77px;height:20px;line-height:20px;text-align:right;padding-right:3px;color:#343d48;">12/15/21</div>
<div class="t n" style="left:599px;top:270px;width:176px;height:20px;line-height:20px;text-align:right;padding-right:2px;color:#101010;">517,113</div>
<div class="t n" style="left:777px;top:270px;width:89px;height:20px;line-height:20px;text-align:right;padding-right:3px;color:#101010;">136,877</div>
<div class="t i n" style="left:867px;top:270px;width:94px;height:20px;line-height:20px;text-align:right;padding-right:3px;color:#101010;">26.5%</div>
<div class="t i n" style="left:963px;top:270px;width:97px;height:20px;line-height:20px;text-align:center;color:#3d2300;">No</div>
<div class="t b" style="left:3px;top:290px;width:180px;height:20px;line-height:20px;text-align:right;padding-right:3px;color:#343d48;">Hawaii</div>
<div class="t b" style="left:184px;top:290px;width:163px;height:20px;line-height:20px;text-align:center;color:#343d48;">HC.gov</div>
<div class="t b" style="left:348px;top:290px;width:171px;height:20px;line-height:20px;text-align:right;padding-right:3px;color:#343d48;">21,789</div>
<div class="t b" style="left:520px;top:290px;width:77px;height:20px;line-height:20px;text-align:right;padding-right:3px;color:#343d48;">12/15/21</div>
<div class="t n" style="left:599px;top:290px;width:176px;height:20px;line-height:20px;text-align:right;padding-right:2px;color:#101010;">22,903</div>
<div class="t n" style="left:777px;top:290px;width:89px;height:20px;line-height:20px;text-align:right;padding-right:3px;color:#101010;">-1,114</div>
<div class="t i n" style="left:867px;top:290px;width:94px;height:20px;line-height:20px;text-align:right;padding-right:3px;color:#101010;">-4.9%</div>
<div class="t i n" style="left:963px;top:290px;width:97px;height:20px;line-height:20px;text-align:center;color:#10300a;">Yes</div>
<div class="t b" style="left:3px;top:310px;width:180px;height:20px;line-height:20px;text-align:right;padding-right:3px;color:#0d4b88;">Idaho</div>
<div class="t b" style="left:184px;top:310px;width:163px;height:20px;line-height:20px;text-align:center;color:#0d4b88;">SBM</div>
<div class="t b" style="left:348px;top:310px;width:171px;height:20px;line-height:20px;text-align:right;padding-right:3px;color:#0d4b88;">73,359</div>
<div class="t b" style="left:520px;top:310px;width:77px;height:20px;line-height:20px;text-align:right;padding-right:3px;color:#0d4b88;">12/22/21</div>
<div class="t n" style="left:599px;top:310px;width:176px;height:20px;line-height:20px;text-align:right;padding-right:2px;color:#08284f;">68,832</div>
<div class="t n" style="left:777px;top:310px;width:89px;height:20px;line-height:20px;text-align:right;padding-right:3px;color:#08284f;">4,527</div>
<div class="t i n" style="left:867px;top:310px;width:94px;height:20px;line-height:20px;text-align:right;padding-right:3px;color:#08284f;">6.6%</div>
<div class="t i n" style="left:963px;top:310px;width:97px;height:20px;line-height:20px;text-align:center;color:#10300a;">Yes</div>
<div class="t b" style="left:3px;top:330px;width:180px;height:20px;line-height:20px;text-align:right;padding-right:3px;color:#343d48;">Illinois</div>
<div class="t b" style="left:184px;top:330px;width:163px;height:20px;line-height:20px;text-align:center;color:#343d48;">HC.gov</div>
<div class="t b" style="left:348px;top:330px;width:171px;height:20px;line-height:20px;text-align:right;padding-right:3px;color:#343d48;">310,489</div>
<div class="t b" style="left:520px;top:330px;width:77px;height:20px;line-height:20px;text-align:right;padding-right:3px;color:#343d48;">12/15/21</div>
<div class="t n" style="left:599px;top:330px;width:176px;height:20px;line-height:20px;text-align:right;padding-right:2px;color:#101010;">291,215</div>
<div class="t n" style="left:777px;top:330px;width:89px;height:20px;line-height:20px;text-align:right;padding-right:3px;color:#101010;">19,274</div>
<div class="t i n" style="left:867px;top:330px;width:94px;height:20px;line-height:20px;text-align:right;padding-right:3px;color:#101010;">6.6%</div>
<div class="t i n" style="left:963px;top:330px;width:97px;height:20px;line-height:20px;text-align:center;color:#10300a;">Yes</div>
<div class="t b" style="left:3px;top:350px;width:180px;height:20px;line-height:20px;text-align:right;padding-right:3px;color:#343d48;">Indiana</div>
<div class="t b" style="left:184px;top:350px;width:163px;height:20px;line-height:20px;text-align:center;color:#343d48;">HC.gov</div>
<div class="t b" style="left:348px;top:350px;width:171px;height:20px;line-height:20px;text-align:right;padding-right:3px;color:#343d48;">149,369</div>
<div class="t b" style="left:520px;top:350px;width:77px;height:20px;line-height:20px;text-align:right;padding-right:3px;color:#343d48;">12/15/21</div>
<div class="t n" style="left:599px;top:350px;width:176px;height:20px;line-height:20px;text-align:right;padding-right:2px;color:#101010;">136,593</div>
<div class="t n" style="left:777px;top:350px;width:89px;height:20px;line-height:20px;text-align:right;padding-right:3px;color:#101010;">12,776</div>
<div class="t i n" style="left:867px;top:350px;width:94px;height:20px;line-height:20px;text-align:right;padding-right:3px;color:#101010;">9.4%</div>
<div class="t i n" style="left:963px;top:350px;width:97px;height:20px;line-height:20px;text-align:center;color:#10300a;">Yes</div>
<div class="t b" style="left:3px;top:370px;width:180px;height:20px;line-height:20px;text-align:right;padding-right:3px;color:#343d48;">Iowa</div>
<div class="t b" style="left:184px;top:370px;width:163px;height:20px;line-height:20px;text-align:center;color:#343d48;">HC.gov</div>
<div class="t b" style="left:348px;top:370px;width:171px;height:20px;line-height:20px;text-align:right;padding-right:3px;color:#343d48;">69,293</div>
<div class="t b" style="left:520px;top:370px;width:77px;height:20px;line-height:20px;text-align:right;padding-right:3px;color:#343d48;">12/15/21</div>
<div class="t n" style="left:599px;top:370px;width:176px;height:20px;line-height:20px;text-align:right;padding-right:2px;color:#101010;">59,228</div>
<div class="t n" style="left:777px;top:370px;width:89px;height:20px;line-height:20px;text-align:right;padding-right:3px;color:#101010;">10,065</div>
<div class="t i n" style="left:867px;top:370px;width:94px;height:20px;line-height:20px;text-align:right;padding-right:3px;color:#101010;">17.0%</div>
<div class="t i n" style="left:963px;top:370px;width:97px;height:20px;line-height:20px;text-align:center;color:#10300a;">Yes</div>
<div class="t b" style="left:3px;top:390px;width:180px;height:20px;line-height:20px;text-align:right;padding-right:3px;color:#343d48;">Kansas</div>
<div class="t b" style="left:184px;top:390px;width:163px;height:20px;line-height:20px;text-align:center;color:#343d48;">HC.gov</div>
<div class="t b" style="left:348px;top:390px;width:171px;height:20px;line-height:20px;text-align:right;padding-right:3px;color:#343d48;">102,573</div>
<div class="t b" style="left:520px;top:390px;width:77px;height:20px;line-height:20px;text-align:right;padding-right:3px;color:#343d48;">12/15/21</div>
<div class="t n" style="left:599px;top:390px;width:176px;height:20px;line-height:20px;text-align:right;padding-right:2px;color:#101010;">88,627</div>
<div class="t n" style="left:777px;top:390px;width:89px;height:20px;line-height:20px;text-align:right;padding-right:3px;color:#101010;">13,946</div>
<div class="t i n" style="left:867px;top:390px;width:94px;height:20px;line-height:20px;text-align:right;padding-right:3px;color:#101010;">15.7%</div>
<div class="t i n" style="left:963px;top:390px;width:97px;height:20px;line-height:20px;text-align:center;color:#3d2300;">No</div>
<div class="t b" style="left:3px;top:410px;width:180px;height:20px;line-height:20px;text-align:right;padding-right:3px;color:#0d4b88;">Kentucky</div>
<div class="t b" style="left:184px;top:410px;width:163px;height:20px;line-height:20px;text-align:center;color:#0d4b88;">SBM</div>
<div class="t b" style="left:348px;top:410px;width:171px;height:20px;line-height:20px;text-align:right;padding-right:3px;color:#0d4b88;">72,057</div>
<div class="t b" style="left:520px;top:410px;width:77px;height:20px;line-height:20px;text-align:right;padding-right:3px;color:#0d4b88;">12/25/21</div>
<div class="t n" style="left:599px;top:410px;width:176px;height:20px;line-height:20px;text-align:right;padding-right:2px;color:#101010;">77,821</div>
<div class="t n" style="left:777px;top:410px;width:89px;height:20px;line-height:20px;text-align:right;padding-right:3px;color:#101010;">-5,764</div>
<div class="t i n" style="left:867px;top:410px;width:94px;height:20px;line-height:20px;text-align:right;padding-right:3px;color:#101010;">-7.4%</div>
<div class="t i n" style="left:963px;top:410px;width:97px;height:20px;line-height:20px;text-align:center;color:#10300a;">Yes</div>
<div class="t b" style="left:3px;top:430px;width:180px;height:20px;line-height:20px;text-align:right;padding-right:3px;color:#343d48;">Louisiana</div>
<div class="t b" style="left:184px;top:430px;width:163px;height:20px;line-height:20px;text-align:center;color:#343d48;">HC.gov</div>
<div class="t b" style="left:348px;top:430px;width:171px;height:20px;line-height:20px;text-align:right;padding-right:3px;color:#343d48;">94,635</div>
<div class="t b" style="left:520px;top:430px;width:77px;height:20px;line-height:20px;text-align:right;padding-right:3px;color:#343d48;">12/15/21</div>
<div class="t n" style="left:599px;top:430px;width:176px;height:20px;line-height:20px;text-align:right;padding-right:2px;color:#101010;">83,159</div>
<div class="t n" style="left:777px;top:430px;width:89px;height:20px;line-height:20px;text-align:right;padding-right:3px;color:#101010;">11,476</div>
<div class="t i n" style="left:867px;top:430px;width:94px;height:20px;line-height:20px;text-align:right;padding-right:3px;color:#101010;">13.8%</div>
<div class="t i n" style="left:963px;top:430px;width:97px;height:20px;line-height:20px;text-align:center;color:#10300a;">Yes</div>
<div class="t b" style="left:3px;top:450px;width:180px;height:20px;line-height:20px;text-align:right;padding-right:3px;color:#0d4b88;">Maine</div>
<div class="t b" style="left:184px;top:450px;width:163px;height:20px;line-height:20px;text-align:center;color:#0d4b88;">SBM</div>
<div class="t b" style="left:348px;top:450px;width:171px;height:20px;line-height:20px;text-align:right;padding-right:3px;color:#0d4b88;">65,005</div>
<div class="t b" style="left:520px;top:450px;width:77px;height:20px;line-height:20px;text-align:right;padding-right:3px;color:#0d4b88;">12/25/21</div>
<div class="t n" style="left:599px;top:450px;width:176px;height:20px;line-height:20px;text-align:right;padding-right:2px;color:#101010;">59,738</div>
<div class="t n" style="left:777px;top:450px;width:89px;height:20px;line-height:20px;text-align:right;padding-right:3px;color:#101010;">5,267</div>
<div class="t i n" style="left:867px;top:450px;width:94px;height:20px;line-height:20px;text-align:right;padding-right:3px;color:#101010;">8.8%</div>
<div class="t i n" style="left:963px;top:450px;width:97px;height:20px;line-height:20px;text-align:center;color:#10300a;">Yes</div>
<div class="t b" style="left:3px;top:470px;width:180px;height:20px;line-height:20px;text-align:right;padding-right:3px;color:#0d4b88;">Maryland</div>
<div class="t b" style="left:184px;top:470px;width:163px;height:20px;line-height:20px;text-align:center;color:#0d4b88;">SBM</div>
<div class="t b" style="left:348px;top:470px;width:171px;height:20px;line-height:20px;text-align:right;padding-right:3px;color:#0d4b88;">171,447</div>
<div class="t b" style="left:520px;top:470px;width:77px;height:20px;line-height:20px;text-align:right;padding-right:3px;color:#0d4b88;">12/25/21</div>
<div class="t n" style="left:599px;top:470px;width:176px;height:20px;line-height:20px;text-align:right;padding-right:2px;color:#08284f;">166,038</div>
<div class="t n" style="left:777px;top:470px;width:89px;height:20px;line-height:20px;text-align:right;padding-right:3px;color:#08284f;">5,409</div>
<div class="t i n" style="left:867px;top:470px;width:94px;height:20px;line-height:20px;text-align:right;padding-right:3px;color:#08284f;">3.3%</div>
<div class="t i n" style="left:963px;top:470px;width:97px;height:20px;line-height:20px;text-align:center;color:#10300a;">Yes</div>
<div class="t b" style="left:3px;top:490px;width:180px;height:20px;line-height:20px;text-align:right;padding-right:3px;color:#0d4b88;">Massachusetts</div>
<div class="t b" style="left:184px;top:490px;width:163px;height:20px;line-height:20px;text-align:center;color:#0d4b88;">SBM</div>
<div class="t b" style="left:348px;top:490px;width:171px;height:20px;line-height:20px;text-align:right;padding-right:3px;color:#0d4b88;">262,167</div>
<div class="t b" style="left:520px;top:490px;width:77px;height:20px;line-height:20px;text-align:right;padding-right:3px;color:#0d4b88;">12/25/21</div>
<div class="t n" style="left:599px;top:490px;width:176px;height:20px;line-height:20px;text-align:right;padding-right:2px;color:#08284f;">294,097</div>
<div class="t n" style="left:777px;top:490px;width:89px;height:20px;line-height:20px;text-align:right;padding-right:3px;color:#08284f;">-31,930</div>
<div class="t i n" style="left:867px;top:490px;width:94px;height:20px;line-height:20px;text-align:right;padding-right:3px;color:#101010;">-10.9%</div>
<div class="t i n" style="left:963px;top:490px;width:97px;height:20px;line-height:20px;text-align:center;color:#10300a;">Yes</div>
<div class="t b" style="left:3px;top:510px;width:180px;height:20px;line-height:20px;text-align:right;padding-right:3px;color:#343d48;">Michigan</div>
<div class="t b" style="left:184px;top:510px;width:163px;height:20px;line-height:20px;text-align:center;color:#343d48;">HC.gov</div>
<div class="t b" style="left:348px;top:510px;width:171px;height:20px;line-height:20px;text-align:right;padding-right:3px;color:#343d48;">293,476</div>
<div class="t b" style="left:520px;top:510px;width:77px;height:20px;line-height:20px;text-align:right;padding-right:3px;color:#343d48;">12/15/21</div>
<div class="t n" style="left:599px;top:510px;width:176px;height:20px;line-height:20px;text-align:right;padding-right:2px;color:#101010;">267,070</div>
<div class="t n" style="left:777px;top:510px;width:89px;height:20px;line-height:20px;text-align:right;padding-right:3px;color:#101010;">26,406</div>
<div class="t i n" style="left:867px;top:510px;width:94px;height:20px;line-height:20px;text-align:right;padding-right:3px;color:#101010;">9.9%</div>
<div class="t i n" style="left:963px;top:510px;width:97px;height:20px;line-height:20px;text-align:center;color:#10300a;">Yes</div>
<div class="t b" style="left:3px;top:530px;width:180px;height:20px;line-height:20px;text-align:right;padding-right:3px;color:#0d4b88;">Minnesota</div>
<div class="t b" style="left:184px;top:530px;width:163px;height:20px;line-height:20px;text-align:center;color:#0d4b88;">SBM</div>
<div class="t b" style="left:348px;top:530px;width:171px;height:20px;line-height:20px;text-align:right;padding-right:3px;color:#0d4b88;">117,039</div>
<div class="t b" style="left:520px;top:530px;width:77px;height:20px;line-height:20px;text-align:right;padding-right:3px;color:#0d4b88;">12/25/21</div>
<div class="t n" style="left:599px;top:530px;width:176px;height:20px;line-height:20px;text-align:right;padding-right:2px;color:#08284f;">112,804</div>
<div class="t n" style="left:777px;top:530px;width:89px;height:20px;line-height:20px;text-align:right;padding-right:3px;color:#08284f;">4,235</div>
<div class="t i n" style="left:867px;top:530px;width:94px;height:20px;line-height:20px;text-align:right;padding-right:3px;color:#08284f;">3.8%</div>
<div class="t i n" style="left:963px;top:530px;width:97px;height:20px;line-height:20px;text-align:center;color:#10300a;">Yes</div>
<div class="t b" style="left:3px;top:550px;width:180px;height:20px;line-height:20px;text-align:right;padding-right:3px;color:#343d48;">Mississippi</div>
<div class="t b" style="left:184px;top:550px;width:163px;height:20px;line-height:20px;text-align:center;color:#343d48;">HC.gov</div>
<div class="t b" style="left:348px;top:550px;width:171px;height:20px;line-height:20px;text-align:right;padding-right:3px;color:#343d48;">132,432</div>
<div class="t b" style="left:520px;top:550px;width:77px;height:20px;line-height:20px;text-align:right;padding-right:3px;color:#343d48;">12/15/21</div>
<div class="t n" style="left:599px;top:550px;width:176px;height:20px;line-height:20px;text-align:right;padding-right:2px;color:#101010;">110,966</div>
<div class="t n" style="left:777px;top:550px;width:89px;height:20px;line-height:20px;text-align:right;padding-right:3px;color:#101010;">21,466</div>
<div class="t i n" style="left:867px;top:550px;width:94px;height:20px;line-height:20px;text-align:right;padding-right:3px;color:#101010;">19.3%</div>
<div class="t i n" style="left:963px;top:550px;width:97px;height:20px;line-height:20px;text-align:center;color:#3d2300;">No</div>
<div class="t b" style="left:3px;top:570px;width:180px;height:20px;line-height:20px;text-align:right;padding-right:3px;color:#343d48;">Missouri</div>
<div class="t b" style="left:184px;top:570px;width:163px;height:20px;line-height:20px;text-align:center;color:#343d48;">HC.gov</div>
<div class="t b" style="left:348px;top:570px;width:171px;height:20px;line-height:20px;text-align:right;padding-right:3px;color:#343d48;">241,982</div>
<div class="t b" style="left:520px;top:570px;width:77px;height:20px;line-height:20px;text-align:right;padding-right:3px;color:#343d48;">12/15/21</div>
<div class="t n" style="left:599px;top:570px;width:176px;height:20px;line-height:20px;text-align:right;padding-right:2px;color:#101010;">215,311</div>
<div class="t n" style="left:777px;top:570px;width:89px;height:20px;line-height:20px;text-align:right;padding-right:3px;color:#101010;">26,671</div>
<div class="t i n" style="left:867px;top:570px;width:94px;height:20px;line-height:20px;text-align:right;padding-right:3px;color:#101010;">12.4%</div>
<div class="t i n" style="left:963px;top:570px;width:97px;height:20px;line-height:20px;text-align:center;color:#10300a;">Yes*</div>
<div class="t b" style="left:3px;top:590px;width:180px;height:20px;line-height:20px;text-align:right;padding-right:3px;color:#343d48;">Montana</div>
<div class="t b" style="left:184px;top:590px;width:163px;height:20px;line-height:20px;text-align:center;color:#343d48;">HC.gov</div>
<div class="t b" style="left:348px;top:590px;width:171px;height:20px;line-height:20px;text-align:right;padding-right:3px;color:#343d48;">49,413</div>
<div class="t b" style="left:520px;top:590px;width:77px;height:20px;line-height:20px;text-align:right;padding-right:3px;color:#343d48;">12/15/21</div>
<div class="t n" style="left:599px;top:590px;width:176px;height:20px;line-height:20px;text-align:right;padding-right:2px;color:#101010;">44,711</div>
<div class="t n" style="left:777px;top:590px;width:89px;height:20px;line-height:20px;text-align:right;padding-right:3px;color:#101010;">4,702</div>
<div class="t i n" style="left:867px;top:590px;width:94px;height:20px;line-height:20px;text-align:right;padding-right:3px;color:#101010;">10.5%</div>
<div class="t i n" style="left:963px;top:590px;width:97px;height:20px;line-height:20px;text-align:center;color:#10300a;">Yes</div>
<div class="t b" style="left:3px;top:610px;width:180px;height:20px;line-height:20px;text-align:right;padding-right:3px;color:#343d48;">Nebraska</div>
<div class="t b" style="left:184px;top:610px;width:163px;height:20px;line-height:20px;text-align:center;color:#343d48;">HC.gov</div>
<div class="t b" style="left:348px;top:610px;width:171px;height:20px;line-height:20px;text-align:right;padding-right:3px;color:#343d48;">97,169</div>
<div class="t b" style="left:520px;top:610px;width:77px;height:20px;line-height:20px;text-align:right;padding-right:3px;color:#343d48;">12/15/21</div>
<div class="t n" style="left:599px;top:610px;width:176px;height:20px;line-height:20px;text-align:right;padding-right:2px;color:#101010;">88,688</div>
<div class="t n" style="left:777px;top:610px;width:89px;height:20px;line-height:20px;text-align:right;padding-right:3px;color:#101010;">8,481</div>
<div class="t i n" style="left:867px;top:610px;width:94px;height:20px;line-height:20px;text-align:right;padding-right:3px;color:#101010;">9.6%</div>
<div class="t i n" style="left:963px;top:610px;width:97px;height:20px;line-height:20px;text-align:center;color:#10300a;">Yes</div>
<div class="t b" style="left:3px;top:630px;width:180px;height:20px;line-height:20px;text-align:right;padding-right:3px;color:#0d4b88;">Nevada</div>
<div class="t b" style="left:184px;top:630px;width:163px;height:20px;line-height:20px;text-align:center;color:#0d4b88;">SBM</div>
<div class="t b" style="left:348px;top:630px;width:171px;height:20px;line-height:20px;text-align:right;padding-right:3px;color:#0d4b88;">97,151</div>
<div class="t n" style="left:599px;top:630px;width:176px;height:20px;line-height:20px;text-align:right;padding-right:2px;color:#08284f;">81,903</div>
<div class="t n" style="left:777px;top:630px;width:89px;height:20px;line-height:20px;text-align:right;padding-right:3px;color:#08284f;">15,248</div>
<div class="t i n" style="left:867px;top:630px;width:94px;height:20px;line-height:20px;text-align:right;padding-right:3px;color:#08284f;">18.6%</div>
<div class="t i n" style="left:963px;top:630px;width:97px;height:20px;line-height:20px;text-align:center;color:#10300a;">Yes</div>
<div class="t b" style="left:3px;top:650px;width:180px;height:20px;line-height:20px;text-align:right;padding-right:3px;color:#343d48;">New Hampshire</div>
<div class="t b" style="left:184px;top:650px;width:163px;height:20px;line-height:20px;text-align:center;color:#343d48;">HC.gov</div>
<div class="t b" style="left:348px;top:650px;width:171px;height:20px;line-height:20px;text-align:right;padding-right:3px;color:#343d48;">51,058</div>
<div class="t b" style="left:520px;top:650px;width:77px;height:20px;line-height:20px;text-align:right;padding-right:3px;color:#343d48;">12/15/21</div>
<div class="t n" style="left:599px;top:650px;width:176px;height:20px;line-height:20px;text-align:right;padding-right:2px;color:#101010;">46,670</div>
<div class="t n" style="left:777px;top:650px;width:89px;height:20px;line-height:20px;text-align:right;padding-right:3px;color:#101010;">4,388</div>
<div class="t i n" style="left:867px;top:650px;width:94px;height:20px;line-height:20px;text-align:right;padding-right:3px;color:#101010;">9.4%</div>
<div class="t i n" style="left:963px;top:650px;width:97px;height:20px;line-height:20px;text-align:center;color:#10300a;">Yes</div>
<div class="t b" style="left:3px;top:670px;width:180px;height:20px;line-height:20px;text-align:right;padding-right:3px;color:#0d4b88;">New Jersey</div>
<div class="t b" style="left:184px;top:670px;width:163px;height:20px;line-height:20px;text-align:center;color:#0d4b88;">SBM</div>
<div class="t b" style="left:348px;top:670px;width:171px;height:20px;line-height:20px;text-align:right;padding-right:3px;color:#0d4b88;">299,589</div>
<div class="t b" style="left:520px;top:670px;width:77px;height:20px;line-height:20px;text-align:right;padding-right:3px;color:#0d4b88;">12/25/21</div>
<div class="t n" style="left:599px;top:670px;width:176px;height:20px;line-height:20px;text-align:right;padding-right:2px;color:#08284f;">269,560</div>
<div class="t n" style="left:777px;top:670px;width:89px;height:20px;line-height:20px;text-align:right;padding-right:3px;color:#08284f;">30,029</div>
<div class="t i n" style="left:867px;top:670px;width:94px;height:20px;line-height:20px;text-align:right;padding-right:3px;color:#08284f;">11.1%</div>
<div class="t i n" style="left:963px;top:670px;width:97px;height:20px;line-height:20px;text-align:center;color:#10300a;">Yes</div>
<div class="t b" style="left:3px;top:690px;width:180px;height:20px;line-height:20px;text-align:right;padding-right:3px;color:#0d4b88;">New Mexico</div>
<div class="t b" style="left:184px;top:690px;width:163px;height:20px;line-height:20px;text-align:center;color:#0d4b88;">SBM</div>
<div class="t b" style="left:348px;top:690px;width:171px;height:20px;line-height:20px;text-align:right;padding-right:3px;color:#0d4b88;">43,303</div>
<div class="t b" style="left:520px;top:690px;width:77px;height:20px;line-height:20px;text-align:right;padding-right:3px;color:#0d4b88;">01/01/22</div>
<div class="t n" style="left:599px;top:690px;width:176px;height:20px;line-height:20px;text-align:right;padding-right:2px;color:#101010;">42,984</div>
<div class="t n" style="left:777px;top:690px;width:89px;height:20px;line-height:20px;text-align:right;padding-right:3px;color:#101010;">319</div>
<div class="t i n" style="left:867px;top:690px;width:94px;height:20px;line-height:20px;text-align:right;padding-right:3px;color:#08284f;">0.7%</div>
<div class="t i n" style="left:963px;top:690px;width:97px;height:20px;line-height:20px;text-align:center;color:#10300a;">Yes</div>
<div class="t b" style="left:3px;top:710px;width:180px;height:20px;line-height:20px;text-align:right;padding-right:3px;color:#0d4b88;">New York</div>
<div class="t b" style="left:184px;top:710px;width:163px;height:20px;line-height:20px;text-align:center;color:#0d4b88;">SBM</div>
<div class="t b" style="left:348px;top:710px;width:171px;height:20px;line-height:20px;text-align:right;padding-right:3px;color:#0d4b88;">208,891</div>
<div class="t b" style="left:520px;top:710px;width:77px;height:20px;line-height:20px;text-align:right;padding-right:3px;color:#0d4b88;">12/25/21</div>
<div class="t n" style="left:599px;top:710px;width:176px;height:20px;line-height:20px;text-align:right;padding-right:2px;color:#08284f;">215,889</div>
<div class="t n" style="left:777px;top:710px;width:89px;height:20px;line-height:20px;text-align:right;padding-right:3px;color:#08284f;">-6,998</div>
<div class="t i n" style="left:867px;top:710px;width:94px;height:20px;line-height:20px;text-align:right;padding-right:3px;color:#101010;">-3.2%</div>
<div class="t i n" style="left:963px;top:710px;width:97px;height:20px;line-height:20px;text-align:center;color:#10300a;">Yes</div>
<div class="t b" style="left:3px;top:730px;width:180px;height:20px;line-height:20px;text-align:right;padding-right:3px;color:#343d48;">North Carolina</div>
<div class="t b" style="left:184px;top:730px;width:163px;height:20px;line-height:20px;text-align:center;color:#343d48;">HC.gov</div>
<div class="t b" style="left:348px;top:730px;width:171px;height:20px;line-height:20px;text-align:right;padding-right:3px;color:#343d48;">638,309</div>
<div class="t b" style="left:520px;top:730px;width:77px;height:20px;line-height:20px;text-align:right;padding-right:3px;color:#343d48;">12/15/21</div>
<div class="t n" style="left:599px;top:730px;width:176px;height:20px;line-height:20px;text-align:right;padding-right:2px;color:#101010;">535,803</div>
<div class="t n" style="left:777px;top:730px;width:89px;height:20px;line-height:20px;text-align:right;padding-right:3px;color:#101010;">102,506</div>
<div class="t i n" style="left:867px;top:730px;width:94px;height:20px;line-height:20px;text-align:right;padding-right:3px;color:#101010;">19.1%</div>
<div class="t i n" style="left:963px;top:730px;width:97px;height:20px;line-height:20px;text-align:center;color:#3d2300;">No</div>
<div class="t b" style="left:3px;top:750px;width:180px;height:20px;line-height:20px;text-align:right;padding-right:3px;color:#343d48;">North Dakota</div>
<div class="t b" style="left:184px;top:750px;width:163px;height:20px;line-height:20px;text-align:center;color:#343d48;">HC.gov</div>
<div class="t b" style="left:348px;top:750px;width:171px;height:20px;line-height:20px;text-align:right;padding-right:3px;color:#343d48;">28,849</div>
<div class="t b" style="left:520px;top:750px;width:77px;height:20px;line-height:20px;text-align:right;padding-right:3px;color:#343d48;">12/15/21</div>
<div class="t n" style="left:599px;top:750px;width:176px;height:20px;line-height:20px;text-align:right;padding-right:2px;color:#101010;">22,709</div>
<div class="t n" style="left:777px;top:750px;width:89px;height:20px;line-height:20px;text-align:right;padding-right:3px;color:#101010;">6,140</div>
<div class="t i n" style="left:867px;top:750px;width:94px;height:20px;line-height:20px;text-align:right;padding-right:3px;color:#101010;">27.0%</div>
<div class="t i n" style="left:963px;top:750px;width:97px;height:20px;line-height:20px;text-align:center;color:#10300a;">Yes</div>
<div class="t b" style="left:3px;top:770px;width:180px;height:20px;line-height:20px;text-align:right;padding-right:3px;color:#343d48;">Ohio</div>
<div class="t b" style="left:184px;top:770px;width:163px;height:20px;line-height:20px;text-align:center;color:#343d48;">HC.gov</div>
<div class="t b" style="left:348px;top:770px;width:171px;height:20px;line-height:20px;text-align:right;padding-right:3px;color:#343d48;">247,269</div>
<div class="t b" style="left:520px;top:770px;width:77px;height:20px;line-height:20px;text-align:right;padding-right:3px;color:#343d48;">12/15/21</div>
<div class="t n" style="left:599px;top:770px;width:176px;height:20px;line-height:20px;text-align:right;padding-right:2px;color:#101010;">201,069</div>
<div class="t n" style="left:777px;top:770px;width:89px;height:20px;line-height:20px;text-align:right;padding-right:3px;color:#101010;">46,200</div>
<div class="t i n" style="left:867px;top:770px;width:94px;height:20px;line-height:20px;text-align:right;padding-right:3px;color:#101010;">23.0%</div>
<div class="t i n" style="left:963px;top:770px;width:97px;height:20px;line-height:20px;text-align:center;color:#10300a;">Yes</div>
<div class="t b" style="left:3px;top:790px;width:180px;height:20px;line-height:20px;text-align:right;padding-right:3px;color:#343d48;">Oklahoma</div>
<div class="t b" style="left:184px;top:790px;width:163px;height:20px;line-height:20px;text-align:center;color:#343d48;">HC.gov</div>
<div class="t b" style="left:348px;top:790px;width:171px;height:20px;line-height:20px;text-align:right;padding-right:3px;color:#343d48;">185,873</div>
<div class="t b" style="left:520px;top:790px;width:77px;height:20px;line-height:20px;text-align:right;padding-right:3px;color:#343d48;">12/15/21</div>
<div class="t n" style="left:599px;top:790px;width:176px;height:20px;line-height:20px;text-align:right;padding-right:2px;color:#101010;">171,551</div>
<div class="t n" style="left:777px;top:790px;width:89px;height:20px;line-height:20px;text-align:right;padding-right:3px;color:#101010;">14,322</div>
<div class="t i n" style="left:867px;top:790px;width:94px;height:20px;line-height:20px;text-align:right;padding-right:3px;color:#101010;">8.3%</div>
<div class="t i n" style="left:963px;top:790px;width:97px;height:20px;line-height:20px;text-align:center;color:#10300a;">Yes*</div>
<div class="t b" style="left:3px;top:810px;width:180px;height:20px;line-height:20px;text-align:right;padding-right:3px;color:#343d48;">Oregon</div>
<div class="t b" style="left:184px;top:810px;width:163px;height:20px;line-height:20px;text-align:center;color:#343d48;">HC.gov</div>
<div class="t b" style="left:348px;top:810px;width:171px;height:20px;line-height:20px;text-align:right;padding-right:3px;color:#343d48;">142,783</div>
<div class="t b" style="left:520px;top:810px;width:77px;height:20px;line-height:20px;text-align:right;padding-right:3px;color:#343d48;">12/15/21</div>
<div class="t n" style="left:599px;top:810px;width:176px;height:20px;line-height:20px;text-align:right;padding-right:2px;color:#101010;">141,089</div>
<div class="t n" style="left:777px;top:810px;width:89px;height:20px;line-height:20px;text-align:right;padding-right:3px;color:#101010;">1,694</div>
<div class="t i n" style="left:867px;top:810px;width:94px;height:20px;line-height:20px;text-align:right;padding-right:3px;color:#101010;">1.2%</div>
<div class="t i n" style="left:963px;top:810px;width:97px;height:20px;line-height:20px;text-align:center;color:#10300a;">Yes</div>
<div class="t b" style="left:3px;top:830px;width:180px;height:20px;line-height:20px;text-align:right;padding-right:3px;color:#0d4b88;">Pennsylvania</div>
<div class="t b" style="left:184px;top:830px;width:163px;height:20px;line-height:20px;text-align:center;color:#0d4b88;">SBM</div>
<div class="t b" style="left:348px;top:830px;width:171px;height:20px;line-height:20px;text-align:right;padding-right:3px;color:#0d4b88;">358,792</div>
<div class="t b" style="left:520px;top:830px;width:77px;height:20px;line-height:20px;text-align:right;padding-right:3px;color:#0d4b88;">12/25/21</div>
<div class="t n" style="left:599px;top:830px;width:176px;height:20px;line-height:20px;text-align:right;padding-right:2px;color:#08284f;">337,722</div>
<div class="t n" style="left:777px;top:830px;width:89px;height:20px;line-height:20px;text-align:right;padding-right:3px;color:#08284f;">21,070</div>
<div class="t i n" style="left:867px;top:830px;width:94px;height:20px;line-height:20px;text-align:right;padding-right:3px;color:#08284f;">6.2%</div>
<div class="t i n" style="left:963px;top:830px;width:97px;height:20px;line-height:20px;text-align:center;color:#10300a;">Yes</div>
<div class="t b" style="left:3px;top:850px;width:180px;height:20px;line-height:20px;text-align:right;padding-right:3px;color:#0d4b88;">Rhode Island</div>
<div class="t b" style="left:184px;top:850px;width:163px;height:20px;line-height:20px;text-align:center;color:#0d4b88;">SBM</div>
<div class="t b" style="left:348px;top:850px;width:171px;height:20px;line-height:20px;text-align:right;padding-right:3px;color:#0d4b88;">32,308</div>
<div class="t b" style="left:520px;top:850px;width:77px;height:20px;line-height:20px;text-align:right;padding-right:3px;color:#0d4b88;">12/25/21</div>
<div class="t n" style="left:599px;top:850px;width:176px;height:20px;line-height:20px;text-align:right;padding-right:2px;color:#08284f;">31,174</div>
<div class="t n" style="left:777px;top:850px;width:89px;height:20px;line-height:20px;text-align:right;padding-right:3px;color:#08284f;">1,134</div>
<div class="t i n" style="left:867px;top:850px;width:94px;height:20px;line-height:20px;text-align:right;padding-right:3px;color:#08284f;">3.6%</div>
<div class="t i n" style="left:963px;top:850px;width:97px;height:20px;line-height:20px;text-align:center;color:#10300a;">Yes</div>
<div class="t b" style="left:3px;top:870px;width:180px;height:20px;line-height:20px;text-align:right;padding-right:3px;color:#343d48;">South Carolina</div>
<div class="t b" style="left:184px;top:870px;width:163px;height:20px;line-height:20px;text-align:center;color:#343d48;">HC.gov</div>
<div class="t b" style="left:348px;top:870px;width:171px;height:20px;line-height:20px;text-align:right;padding-right:3px;color:#343d48;">282,882</div>
<div class="t b" style="left:520px;top:870px;width:77px;height:20px;line-height:20px;text-align:right;padding-right:3px;color:#343d48;">12/15/21</div>
<div class="t n" style="left:599px;top:870px;width:176px;height:20px;line-height:20px;text-align:right;padding-right:2px;color:#101010;">230,050</div>
<div class="t n" style="left:777px;top:870px;width:89px;height:20px;line-height:20px;text-align:right;padding-right:3px;color:#101010;">52,832</div>
<div class="t i n" style="left:867px;top:870px;width:94px;height:20px;line-height:20px;text-align:right;padding-right:3px;color:#101010;">23.0%</div>
<div class="t i n" style="left:963px;top:870px;width:97px;height:20px;line-height:20px;text-align:center;color:#3d2300;">No</div>
<div class="t b" style="left:3px;top:890px;width:180px;height:20px;line-height:20px;text-align:right;padding-right:3px;color:#343d48;">South Dakota</div>
<div class="t b" style="left:184px;top:890px;width:163px;height:20px;line-height:20px;text-align:center;color:#343d48;">HC.gov</div>
<div class="t b" style="left:348px;top:890px;width:171px;height:20px;line-height:20px;text-align:right;padding-right:3px;color:#343d48;">39,292</div>
<div class="t b" style="left:520px;top:890px;width:77px;height:20px;line-height:20px;text-align:right;padding-right:3px;color:#343d48;">12/15/21</div>
<div class="t n" style="left:599px;top:890px;width:176px;height:20px;line-height:20px;text-align:right;padding-right:2px;color:#101010;">31,375</div>
<div class="t n" style="left:777px;top:890px;width:89px;height:20px;line-height:20px;text-align:right;padding-right:3px;color:#101010;">7,917</div>
<div class="t i n" style="left:867px;top:890px;width:94px;height:20px;line-height:20px;text-align:right;padding-right:3px;color:#101010;">25.2%</div>
<div class="t i n" style="left:963px;top:890px;width:97px;height:20px;line-height:20px;text-align:center;color:#3d2300;">No</div>
<div class="t b" style="left:3px;top:910px;width:180px;height:20px;line-height:20px;text-align:right;padding-right:3px;color:#343d48;">Tennessee</div>
<div class="t b" style="left:184px;top:910px;width:163px;height:20px;line-height:20px;text-align:center;color:#343d48;">HC.gov</div>
<div class="t b" style="left:348px;top:910px;width:171px;height:20px;line-height:20px;text-align:right;padding-right:3px;color:#343d48;">257,778</div>
<div class="t b" style="left:520px;top:910px;width:77px;height:20px;line-height:20px;text-align:right;padding-right:3px;color:#343d48;">12/15/21</div>
<div class="t n" style="left:599px;top:910px;width:176px;height:20px;line-height:20px;text-align:right;padding-right:2px;color:#101010;">212,052</div>
<div class="t n" style="left:777px;top:910px;width:89px;height:20px;line-height:20px;text-align:right;padding-right:3px;color:#101010;">45,726</div>
<div class="t i n" style="left:867px;top:910px;width:94px;height:20px;line-height:20px;text-align:right;padding-right:3px;color:#101010;">21.6%</div>
<div class="t i n" style="left:963px;top:910px;width:97px;height:20px;line-height:20px;text-align:center;color:#3d2300;">No</div>
<div class="t b" style="left:3px;top:930px;width:180px;height:20px;line-height:20px;text-align:right;padding-right:3px;color:#343d48;">Texas</div>
<div class="t b" style="left:184px;top:930px;width:163px;height:20px;line-height:20px;text-align:center;color:#343d48;">HC.gov</div>
<div class="t b" style="left:348px;top:930px;width:171px;height:20px;line-height:20px;text-align:right;padding-right:3px;color:#343d48;">1,711,204</div>
<div class="t b" style="left:520px;top:930px;width:77px;height:20px;line-height:20px;text-align:right;padding-right:3px;color:#343d48;">12/15/21</div>
<div class="t n" style="left:599px;top:930px;width:176px;height:20px;line-height:20px;text-align:right;padding-right:2px;color:#101010;">1,291,972</div>
<div class="t n" style="left:777px;top:930px;width:89px;height:20px;line-height:20px;text-align:right;padding-right:3px;color:#101010;">419,232</div>
<div class="t i n" style="left:867px;top:930px;width:94px;height:20px;line-height:20px;text-align:right;padding-right:3px;color:#101010;">32.4%</div>
<div class="t i n" style="left:963px;top:930px;width:97px;height:20px;line-height:20px;text-align:center;color:#3d2300;">No</div>
<div class="t b" style="left:3px;top:950px;width:180px;height:20px;line-height:20px;text-align:right;padding-right:3px;color:#343d48;">Utah</div>
<div class="t b" style="left:184px;top:950px;width:163px;height:20px;line-height:20px;text-align:center;color:#343d48;">HC.gov</div>
<div class="t b" style="left:348px;top:950px;width:171px;height:20px;line-height:20px;text-align:right;padding-right:3px;color:#343d48;">245,285</div>
<div class="t b" style="left:520px;top:950px;width:77px;height:20px;line-height:20px;text-align:right;padding-right:3px;color:#343d48;">12/15/21</div>
<div class="t n" style="left:599px;top:950px;width:176px;height:20px;line-height:20px;text-align:right;padding-right:2px;color:#101010;">207,911</div>
<div class="t n" style="left:777px;top:950px;width:89px;height:20px;line-height:20px;text-align:right;padding-right:3px;color:#101010;">37,374</div>
<div class="t i n" style="left:867px;top:950px;width:94px;height:20px;line-height:20px;text-align:right;padding-right:3px;color:#101010;">18.0%</div>
<div class="t i n" style="left:963px;top:950px;width:97px;height:20px;line-height:20px;text-align:center;color:#10300a;">Yes</div>
<div class="t b" style="left:3px;top:970px;width:180px;height:20px;line-height:20px;text-align:right;padding-right:3px;color:#0d4b88;">Vermont</div>
<div class="t b" style="left:184px;top:970px;width:163px;height:20px;line-height:20px;text-align:center;color:#0d4b88;">SBM</div>
<div class="t b" style="left:348px;top:970px;width:171px;height:20px;line-height:20px;text-align:right;padding-right:3px;color:#0d4b88;">26,069</div>
<div class="t b" style="left:520px;top:970px;width:77px;height:20px;line-height:20px;text-align:right;padding-right:3px;color:#0d4b88;">12/25/21</div>
<div class="t n" style="left:599px;top:970px;width:176px;height:20px;line-height:20px;text-align:right;padding-right:2px;color:#08284f;">24,866</div>
<div class="t n" style="left:777px;top:970px;width:89px;height:20px;line-height:20px;text-align:right;padding-right:3px;color:#08284f;">1,203</div>
<div class="t i n" style="left:867px;top:970px;width:94px;height:20px;line-height:20px;text-align:right;padding-right:3px;color:#08284f;">4.8%</div>
<div class="t i n" style="left:963px;top:970px;width:97px;height:20px;line-height:20px;text-align:center;color:#10300a;">Yes</div>
<div class="t b" style="left:3px;top:990px;width:180px;height:20px;line-height:20px;text-align:right;padding-right:3px;color:#343d48;">Virginia</div>
<div class="t b" style="left:184px;top:990px;width:163px;height:20px;line-height:20px;text-align:center;color:#343d48;">HC.gov</div>
<div class="t b" style="left:348px;top:990px;width:171px;height:20px;line-height:20px;text-align:right;padding-right:3px;color:#343d48;">296,257</div>
<div class="t b" style="left:520px;top:990px;width:77px;height:20px;line-height:20px;text-align:right;padding-right:3px;color:#343d48;">12/15/21</div>
<div class="t n" style="left:599px;top:990px;width:176px;height:20px;line-height:20px;text-align:right;padding-right:2px;color:#101010;">261,943</div>
<div class="t n" style="left:777px;top:990px;width:89px;height:20px;line-height:20px;text-align:right;padding-right:3px;color:#101010;">34,314</div>
<div class="t i n" style="left:867px;top:990px;width:94px;height:20px;line-height:20px;text-align:right;padding-right:3px;color:#101010;">13.1%</div>
<div class="t i n" style="left:963px;top:990px;width:97px;height:20px;line-height:20px;text-align:center;color:#10300a;">Yes</div>
<div class="t b" style="left:3px;top:1010px;width:180px;height:20px;line-height:20px;text-align:right;padding-right:3px;color:#0d4b88;">Washington State</div>
<div class="t b" style="left:184px;top:1010px;width:163px;height:20px;line-height:20px;text-align:center;color:#0d4b88;">SBM</div>
<div class="t b" style="left:348px;top:1010px;width:171px;height:20px;line-height:20px;text-align:right;padding-right:3px;color:#0d4b88;">230,199</div>
<div class="t b" style="left:520px;top:1010px;width:77px;height:20px;line-height:20px;text-align:right;padding-right:3px;color:#0d4b88;">12/25/21</div>
<div class="t n" style="left:599px;top:1010px;width:176px;height:20px;line-height:20px;text-align:right;padding-right:2px;color:#08284f;">222,731</div>
<div class="t n" style="left:777px;top:1010px;width:89px;height:20px;line-height:20px;text-align:right;padding-right:3px;color:#08284f;">7,468</div>
<div class="t i n" style="left:867px;top:1010px;width:94px;height:20px;line-height:20px;text-align:right;padding-right:3px;color:#08284f;">3.4%</div>
<div class="t i n" style="left:963px;top:1010px;width:97px;height:20px;line-height:20px;text-align:center;color:#10300a;">Yes</div>
<div class="t b" style="left:3px;top:1030px;width:180px;height:20px;line-height:20px;text-align:right;padding-right:3px;color:#343d48;">West Virginia</div>
<div class="t b" style="left:184px;top:1030px;width:163px;height:20px;line-height:20px;text-align:center;color:#343d48;">HC.gov</div>
<div class="t b" style="left:348px;top:1030px;width:171px;height:20px;line-height:20px;text-align:right;padding-right:3px;color:#343d48;">21,435</div>
<div class="t b" style="left:520px;top:1030px;width:77px;height:20px;line-height:20px;text-align:right;padding-right:3px;color:#343d48;">12/15/21</div>
<div class="t n" style="left:599px;top:1030px;width:176px;height:20px;line-height:20px;text-align:right;padding-right:2px;color:#101010;">19,381</div>
<div class="t n" style="left:777px;top:1030px;width:89px;height:20px;line-height:20px;text-align:right;padding-right:3px;color:#101010;">2,054</div>
<div class="t i n" style="left:867px;top:1030px;width:94px;height:20px;line-height:20px;text-align:right;padding-right:3px;color:#101010;">10.6%</div>
<div class="t i n" style="left:963px;top:1030px;width:97px;height:20px;line-height:20px;text-align:center;color:#10300a;">Yes</div>
<div class="t b" style="left:3px;top:1050px;width:180px;height:20px;line-height:20px;text-align:right;padding-right:3px;color:#343d48;">Wisconsin</div>
<div class="t b" style="left:184px;top:1050px;width:163px;height:20px;line-height:20px;text-align:center;color:#343d48;">HC.gov</div>
<div class="t b" style="left:348px;top:1050px;width:171px;height:20px;line-height:20px;text-align:right;padding-right:3px;color:#343d48;">205,991</div>
<div class="t b" style="left:520px;top:1050px;width:77px;height:20px;line-height:20px;text-align:right;padding-right:3px;color:#343d48;">12/15/21</div>
<div class="t n" style="left:599px;top:1050px;width:176px;height:20px;line-height:20px;text-align:right;padding-right:2px;color:#101010;">191,702</div>
<div class="t n" style="left:777px;top:1050px;width:89px;height:20px;line-height:20px;text-align:right;padding-right:3px;color:#101010;">14,289</div>
<div class="t i n" style="left:867px;top:1050px;width:94px;height:20px;line-height:20px;text-align:right;padding-right:3px;color:#101010;">7.5%</div>
<div class="t i n" style="left:963px;top:1050px;width:97px;height:20px;line-height:20px;text-align:center;color:#3d2300;">No**</div>
<div class="t b" style="left:3px;top:1070px;width:180px;height:20px;line-height:20px;text-align:right;padding-right:3px;color:#343d48;">Wyoming</div>
<div class="t b" style="left:184px;top:1070px;width:163px;height:20px;line-height:20px;text-align:center;color:#343d48;">HC.gov</div>
<div class="t b" style="left:348px;top:1070px;width:171px;height:20px;line-height:20px;text-align:right;padding-right:3px;color:#343d48;">33,035</div>
<div class="t b" style="left:520px;top:1070px;width:77px;height:20px;line-height:20px;text-align:right;padding-right:3px;color:#343d48;">12/15/21</div>
<div class="t n" style="left:599px;top:1070px;width:176px;height:20px;line-height:20px;text-align:right;padding-right:2px;color:#101010;">26,728</div>
<div class="t n" style="left:777px;top:1070px;width:89px;height:20px;line-height:20px;text-align:right;padding-right:3px;color:#101010;">6,307</div>
<div class="t i n" style="left:867px;top:1070px;width:94px;height:20px;line-height:20px;text-align:right;padding-right:3px;color:#101010;">23.6%</div>
<div class="t i n" style="left:963px;top:1070px;width:97px;height:20px;line-height:20px;text-align:center;color:#3d2300;">No</div>
<div class="t b" style="left:3px;top:28px;width:180px;height:20px;line-height:20px;text-align:center;color:#343d48;">State</div>
<div class="t b" style="left:184px;top:28px;width:163px;height:20px;line-height:20px;text-align:center;color:#343d48;">Platform</div>
<div class="t b" style="left:348px;top:8px;width:171px;height:20px;line-height:20px;text-align:center;color:#45430c;">Cumulative</div>
<div class="t b" style="left:348px;top:28px;width:171px;height:20px;line-height:20px;text-align:center;color:#45430c;">Plan Selections</div>
<div class="t b" style="left:348px;top:48px;width:171px;height:20px;line-height:20px;text-align:center;color:#45430c;">(OEP 2022)</div>
<div class="t b" style="left:520px;top:18px;width:77px;height:20px;line-height:20px;text-align:center;color:#45430c;">Thru</div>
<div class="t b" style="left:520px;top:38px;width:77px;height:20px;line-height:20px;text-align:center;color:#45430c;">Date</div>
<div class="t bi" style="left:599px;top:8px;width:176px;height:20px;line-height:20px;text-align:center;color:#3a424f;">Total Cumulative</div>
<div class="t bi" style="left:599px;top:28px;width:176px;height:20px;line-height:20px;text-align:center;color:#3a424f;">Plan Selections</div>
<div class="t bi" style="left:599px;top:48px;width:176px;height:20px;line-height:20px;text-align:center;color:#3a424f;">(OEP 2021)</div>
<div class="t bi" style="left:777px;top:18px;width:89px;height:20px;line-height:20px;text-align:center;color:#101010;">Diff #</div>
<div class="t bi" style="left:777px;top:38px;width:89px;height:20px;line-height:20px;text-align:center;color:#101010;">y/y</div>
<div class="t bi" style="left:867px;top:18px;width:94px;height:20px;line-height:20px;text-align:center;color:#101010;">Diff %</div>
<div class="t bi" style="left:867px;top:38px;width:94px;height:20px;line-height:20px;text-align:center;color:#101010;">y/y</div>
<div class="t bi" style="left:963px;top:18px;width:97px;height:20px;line-height:20px;text-align:center;color:#101010;">Med</div>
<div class="t bi" style="left:963px;top:38px;width:97px;height:20px;line-height:20px;text-align:center;color:#101010;">Expan</div>
<div class="t b" style="left:3px;top:1097px;width:343px;height:20px;line-height:20px;text-align:right;padding-right:2px;color:#000;">QHP Subtotal</div>
<div class="t b" style="left:348px;top:1097px;width:171px;height:20px;line-height:20px;text-align:right;padding-right:3px;color:#000;">13,824,194</div>
<div class="t b" style="left:599px;top:1097px;width:176px;height:20px;line-height:20px;text-align:right;padding-right:2px;color:#000;">12,004,365</div>
<div class="t b" style="left:777px;top:1097px;width:89px;height:20px;line-height:20px;text-align:right;padding-right:3px;color:#000;">1,819,829</div>
<div class="t bi" style="left:867px;top:1097px;width:94px;height:20px;line-height:20px;text-align:right;padding-right:3px;color:#000;">15.2%</div>
<div class="t b" style="left:3px;top:1124px;width:180px;height:20px;line-height:20px;text-align:right;padding-right:3px;color:#000;">New York</div>
<div class="t b" style="left:3px;top:1144px;width:180px;height:20px;line-height:20px;text-align:right;padding-right:3px;color:#000;">Minnesota</div>
<div class="t b" style="left:184px;top:1124px;width:163px;height:20px;line-height:20px;text-align:left;padding-left:2px;color:#000;font-size:14.4px;">(BHP - Essential Plan)</div>
<div class="t b" style="left:184px;top:1144px;width:163px;height:20px;line-height:20px;text-align:left;padding-left:2px;color:#000;font-size:14.4px;">(BHP - Minnesotacare)</div>
<div class="t b" style="left:348px;top:1124px;width:171px;height:20px;line-height:20px;text-align:right;padding-right:3px;color:#000;">948,917</div>
<div class="t n" style="left:520px;top:1124px;width:77px;height:20px;line-height:20px;text-align:right;padding-right:3px;color:#000;">12/25/21</div>
<div class="t bi" style="left:599px;top:1124px;width:176px;height:20px;line-height:20px;text-align:right;padding-right:2px;color:#000;">832,000</div>
<div class="t n" style="left:777px;top:1124px;width:89px;height:20px;line-height:20px;text-align:right;padding-right:3px;color:#000;">116,917</div>
<div class="t n" style="left:867px;top:1124px;width:94px;height:20px;line-height:20px;text-align:right;padding-right:3px;color:#000;">14.1%</div>
<div class="t b" style="left:348px;top:1144px;width:171px;height:20px;line-height:20px;text-align:right;padding-right:3px;color:#000;">104,960</div>
<div class="t n" style="left:520px;top:1144px;width:77px;height:20px;line-height:20px;text-align:right;padding-right:3px;color:#000;">12/01/21</div>
<div class="t b" style="left:599px;top:1144px;width:176px;height:20px;line-height:20px;text-align:right;padding-right:2px;color:#000;">93,033</div>
<div class="t n" style="left:777px;top:1144px;width:89px;height:20px;line-height:20px;text-align:right;padding-right:3px;color:#000;">11,927</div>
<div class="t n" style="left:867px;top:1144px;width:94px;height:20px;line-height:20px;text-align:right;padding-right:3px;color:#000;">12.8%</div>
<div class="t b" style="left:3px;top:1165px;width:343px;height:20px;line-height:20px;text-align:right;padding-right:2px;color:#000;">BHP Subtotal</div>
<div class="t b" style="left:348px;top:1165px;width:171px;height:20px;line-height:20px;text-align:right;padding-right:3px;color:#000;">1,053,877</div>
<div class="t b" style="left:599px;top:1165px;width:176px;height:20px;line-height:20px;text-align:right;padding-right:2px;color:#000;">925,033</div>
<div class="t b" style="left:777px;top:1165px;width:89px;height:20px;line-height:20px;text-align:right;padding-right:3px;color:#000;">128,844</div>
<div class="t b" style="left:867px;top:1165px;width:94px;height:20px;line-height:20px;text-align:right;padding-right:3px;color:#000;">13.9%</div>
<div class="t b" style="left:3px;top:1195px;width:343px;height:20px;line-height:20px;text-align:right;padding-right:2px;color:#000;">Combined QHP + BHP Total</div>
<div class="t b" style="left:348px;top:1195px;width:171px;height:20px;line-height:20px;text-align:right;padding-right:3px;color:#000;">5,153,820</div>
<div class="t b" style="left:599px;top:1195px;width:176px;height:20px;line-height:20px;text-align:right;padding-right:2px;color:#000;">4,858,238</div>
<div class="t b" style="left:777px;top:1195px;width:89px;height:20px;line-height:20px;text-align:right;padding-right:3px;color:#000;">295,582</div>
<div class="t b" style="left:867px;top:1195px;width:94px;height:20px;line-height:20px;text-align:right;padding-right:3px;color:#000;">6.1%</div>
<div class="t b" style="left:3px;top:1237px;width:179px;height:20px;line-height:20px;text-align:right;padding-right:2px;color:#000;">Total QHPs</div>
<div class="t b" style="left:184px;top:1237px;width:162px;height:20px;line-height:20px;text-align:center;color:#3d4249;">HC.gov</div>
<div class="t b" style="left:348px;top:1237px;width:171px;height:20px;line-height:20px;text-align:right;padding-right:3px;color:#000;">9,724,251</div>
<div class="t b" style="left:599px;top:1237px;width:176px;height:20px;line-height:20px;text-align:right;padding-right:2px;color:#000;">8,071,160</div>
<div class="t b" style="left:777px;top:1237px;width:89px;height:20px;line-height:20px;text-align:right;padding-right:3px;color:#000;">1,653,091</div>
<div class="t b" style="left:867px;top:1237px;width:94px;height:20px;line-height:20px;text-align:right;padding-right:3px;color:#000;">20.5%</div>
<div class="t b" style="left:3px;top:1258px;width:179px;height:20px;line-height:20px;text-align:right;padding-right:2px;color:#000;">Total QHPs</div>
<div class="t b" style="left:184px;top:1258px;width:162px;height:20px;line-height:20px;text-align:center;color:#1f4872;">SBM</div>
<div class="t b" style="left:348px;top:1258px;width:171px;height:20px;line-height:20px;text-align:right;padding-right:3px;color:#000;">4,099,943</div>
<div class="t b" style="left:599px;top:1258px;width:176px;height:20px;line-height:20px;text-align:right;padding-right:2px;color:#000;">3,933,205</div>
<div class="t b" style="left:777px;top:1258px;width:89px;height:20px;line-height:20px;text-align:right;padding-right:3px;color:#000;">166,738</div>
<div class="t b" style="left:867px;top:1258px;width:94px;height:20px;line-height:20px;text-align:right;padding-right:3px;color:#000;">4.2%</div>
<div class="t b" style="left:3px;top:1279px;width:343px;height:20px;line-height:20px;text-align:right;padding-right:2px;color:#000;">Grand total QHPs</div>
<div class="t b" style="left:348px;top:1279px;width:171px;height:20px;line-height:20px;text-align:right;padding-right:3px;color:#000;">13,824,194</div>
<div class="t b" style="left:599px;top:1279px;width:176px;height:20px;line-height:20px;text-align:right;padding-right:2px;color:#000;">12,004,365</div>
<div class="t b" style="left:777px;top:1279px;width:89px;height:20px;line-height:20px;text-align:right;padding-right:3px;color:#000;">1,819,829</div>
<div class="t b" style="left:867px;top:1279px;width:94px;height:20px;line-height:20px;text-align:right;padding-right:3px;color:#000;">15.2%</div>
<div class="t b" style="left:3px;top:1321px;width:179px;height:20px;line-height:20px;text-align:right;padding-right:2px;color:#000;">Total QHPs</div>
<div class="t b" style="left:184px;top:1321px;width:162px;height:20px;line-height:20px;text-align:center;color:#27481c;">Expansion States</div>
<div class="t b" style="left:348px;top:1321px;width:171px;height:20px;line-height:20px;text-align:right;padding-right:3px;color:#000;">6,968,395</div>
<div class="t b" style="left:599px;top:1321px;width:176px;height:20px;line-height:20px;text-align:right;padding-right:2px;color:#000;">6,478,508</div>
<div class="t b" style="left:777px;top:1321px;width:89px;height:20px;line-height:20px;text-align:right;padding-right:3px;color:#000;">489,887</div>
<div class="t b" style="left:867px;top:1321px;width:94px;height:20px;line-height:20px;text-align:right;padding-right:3px;color:#000;">7.6%</div>
<div class="t b" style="left:3px;top:1342px;width:179px;height:20px;line-height:20px;text-align:right;padding-right:2px;color:#000;">Total QHPs</div>
<div class="t b" style="left:184px;top:1342px;width:162px;height:20px;line-height:20px;text-align:center;color:#4a3410;">Non-Expansion</div>
<div class="t b" style="left:348px;top:1342px;width:171px;height:20px;line-height:20px;text-align:right;padding-right:3px;color:#000;">6,855,799</div>
<div class="t b" style="left:599px;top:1342px;width:176px;height:20px;line-height:20px;text-align:right;padding-right:2px;color:#000;">5,525,857</div>
<div class="t b" style="left:777px;top:1342px;width:89px;height:20px;line-height:20px;text-align:right;padding-right:3px;color:#000;">1,329,942</div>
<div class="t b" style="left:867px;top:1342px;width:94px;height:20px;line-height:20px;text-align:right;padding-right:3px;color:#000;">24.1%</div>
<div class="t b" style="left:3px;top:1363px;width:343px;height:20px;line-height:20px;text-align:right;padding-right:2px;color:#000;">Grand Total QHPs</div>
<div class="t b" style="left:348px;top:1363px;width:171px;height:20px;line-height:20px;text-align:right;padding-right:3px;color:#000;">13,824,194</div>
<div class="t b" style="left:599px;top:1363px;width:176px;height:20px;line-height:20px;text-align:right;padding-right:2px;color:#000;">12,004,365</div>
<div class="t b" style="left:777px;top:1363px;width:89px;height:20px;line-height:20px;text-align:right;padding-right:3px;color:#000;">1,819,829</div>
<div class="t b" style="left:867px;top:1363px;width:94px;height:20px;line-height:20px;text-align:right;padding-right:3px;color:#000;">15.2%</div>
</div>
</body></html>
